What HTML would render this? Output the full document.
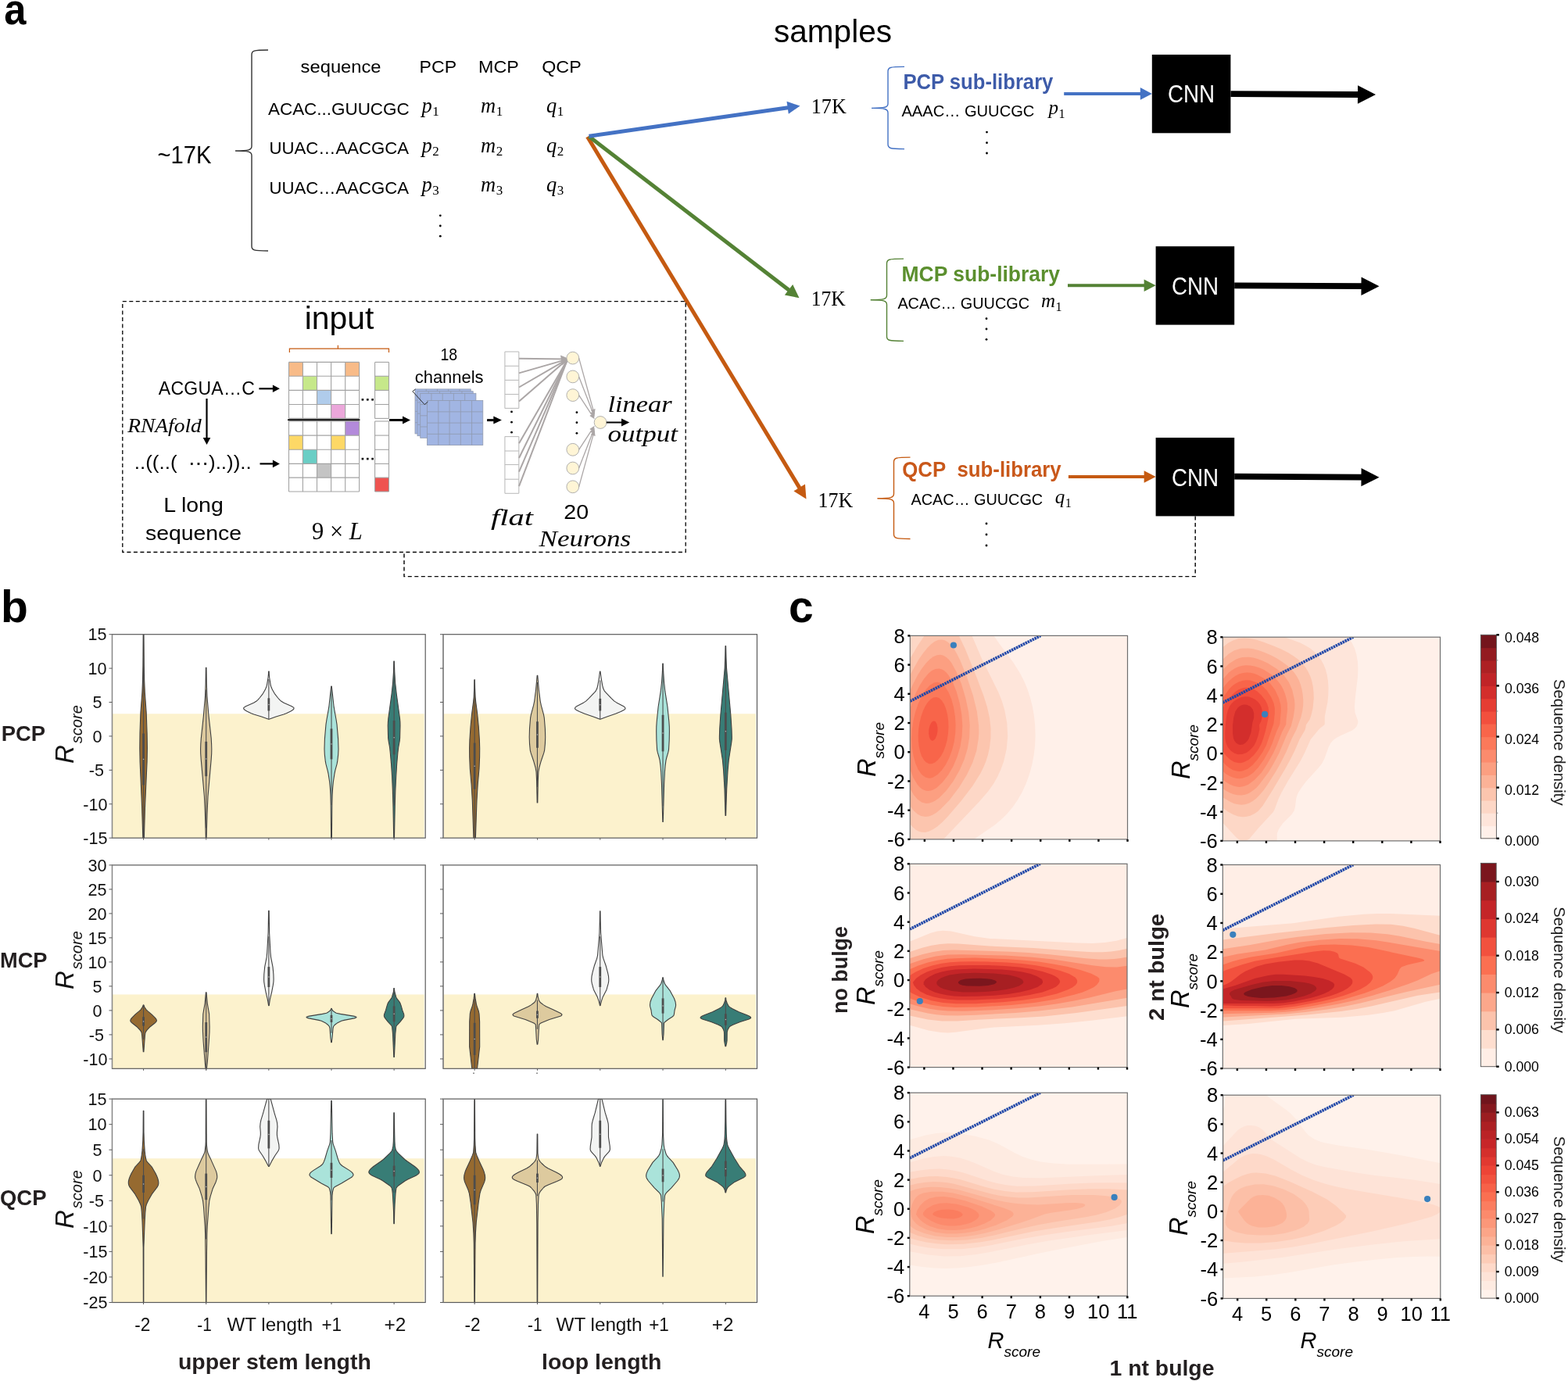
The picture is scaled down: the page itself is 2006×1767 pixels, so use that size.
<!DOCTYPE html>
<html><head><meta charset="utf-8"><title>Figure</title>
<style>
html,body{margin:0;padding:0;background:#fff;}
body{width:2006px;height:1767px;overflow:hidden;}
svg{display:block;}
</style></head><body>
<svg width="2006" height="1767" viewBox="0 0 2006 1767" font-family="'Liberation Sans', Arial, sans-serif">
<rect x="0" y="0" width="2006" height="1767" fill="#fff"/>
<text x="5.2" y="30.7" font-size="56" font-weight="bold" fill="#000" textLength="28.2" lengthAdjust="spacingAndGlyphs">a</text>
<text x="990.0" y="54.0" font-size="40" textLength="151.0" lengthAdjust="spacingAndGlyphs">samples</text>
<path d="M343.0,64.0 C324.0,64.0 322.0,65.0 322.0,70.0 L322.0,187.0 C322.0,192.0 318.0,193.0 301.0,193.0 C318.0,193.0 322.0,194.0 322.0,199.0 L322.0,315.0 C322.0,320.0 324.0,321.0 343.0,321.0" fill="none" stroke="#333" stroke-width="1.4" />
<text x="201.5" y="209.3" font-size="31.5" textLength="69.0" lengthAdjust="spacingAndGlyphs">~17K</text>
<text x="384.6" y="92.9" font-size="22.5" textLength="103.0" lengthAdjust="spacingAndGlyphs">sequence</text>
<text x="536.6" y="93.0" font-size="22.5" textLength="47.5" lengthAdjust="spacingAndGlyphs">PCP</text>
<text x="612.0" y="93.0" font-size="22.5" textLength="51.7" lengthAdjust="spacingAndGlyphs">MCP</text>
<text x="693.2" y="93.0" font-size="22.5" textLength="50.5" lengthAdjust="spacingAndGlyphs">QCP</text>
<text x="343.0" y="146.9" font-size="22.5" textLength="180.7" lengthAdjust="spacingAndGlyphs">ACAC...GUUCGC</text>
<text x="344.5" y="197.3" font-size="22.5" textLength="178.5" lengthAdjust="spacingAndGlyphs">UUAC…AACGCA</text>
<text x="344.5" y="247.7" font-size="22.5" textLength="178.5" lengthAdjust="spacingAndGlyphs">UUAC…AACGCA</text>
<text x="539.5" y="143.5" font-family="'Liberation Serif', 'Times New Roman', serif" font-size="26.5" font-style="italic" fill="#000">p<tspan font-style="normal" font-size="17" dy="4.5" dx="0.5">1</tspan></text>
<text x="615.0" y="143.5" font-family="'Liberation Serif', 'Times New Roman', serif" font-size="26.5" font-style="italic" fill="#000">m<tspan font-style="normal" font-size="17" dy="4.5" dx="0.5">1</tspan></text>
<text x="699.0" y="143.5" font-family="'Liberation Serif', 'Times New Roman', serif" font-size="26.5" font-style="italic" fill="#000">q<tspan font-style="normal" font-size="17" dy="4.5" dx="0.5">1</tspan></text>
<text x="539.5" y="194.5" font-family="'Liberation Serif', 'Times New Roman', serif" font-size="26.5" font-style="italic" fill="#000">p<tspan font-style="normal" font-size="17" dy="4.5" dx="0.5">2</tspan></text>
<text x="615.0" y="194.5" font-family="'Liberation Serif', 'Times New Roman', serif" font-size="26.5" font-style="italic" fill="#000">m<tspan font-style="normal" font-size="17" dy="4.5" dx="0.5">2</tspan></text>
<text x="699.0" y="194.5" font-family="'Liberation Serif', 'Times New Roman', serif" font-size="26.5" font-style="italic" fill="#000">q<tspan font-style="normal" font-size="17" dy="4.5" dx="0.5">2</tspan></text>
<text x="539.5" y="244.5" font-family="'Liberation Serif', 'Times New Roman', serif" font-size="26.5" font-style="italic" fill="#000">p<tspan font-style="normal" font-size="17" dy="4.5" dx="0.5">3</tspan></text>
<text x="615.0" y="244.5" font-family="'Liberation Serif', 'Times New Roman', serif" font-size="26.5" font-style="italic" fill="#000">m<tspan font-style="normal" font-size="17" dy="4.5" dx="0.5">3</tspan></text>
<text x="699.0" y="244.5" font-family="'Liberation Serif', 'Times New Roman', serif" font-size="26.5" font-style="italic" fill="#000">q<tspan font-style="normal" font-size="17" dy="4.5" dx="0.5">3</tspan></text>
<circle cx="563.3" cy="275.8" r="1.4" fill="#000"/>
<circle cx="563.3" cy="289" r="1.4" fill="#000"/>
<circle cx="563.3" cy="302.2" r="1.4" fill="#000"/>
<line x1="751.50" y1="175.00" x2="1022.97" y2="624.38" stroke="#C55A11" stroke-width="5" />
<polygon points="1031.50,638.50 1015.43,628.34 1029.99,619.55" fill="#C55A11"/>
<line x1="753.50" y1="174.60" x2="1009.41" y2="371.15" stroke="#548235" stroke-width="5" />
<polygon points="1022.50,381.20 1003.84,377.59 1014.20,364.10" fill="#548235"/>
<line x1="753.50" y1="174.30" x2="1008.16" y2="137.70" stroke="#4472C4" stroke-width="5" />
<polygon points="1023.50,135.50 1008.80,145.69 1006.52,129.86" fill="#4472C4"/>
<text x="1037.8" y="145.2" font-size="28" font-family="'Liberation Serif', 'Times New Roman', serif" textLength="45.0" lengthAdjust="spacingAndGlyphs">17K</text>
<text x="1037.8" y="391.0" font-size="28" font-family="'Liberation Serif', 'Times New Roman', serif" textLength="44.0" lengthAdjust="spacingAndGlyphs">17K</text>
<text x="1046.6" y="648.8" font-size="28" font-family="'Liberation Serif', 'Times New Roman', serif" textLength="44.6" lengthAdjust="spacingAndGlyphs">17K</text>
<path d="M1157.0,85.4 C1138.0,85.4 1136.0,86.4 1136.0,91.4 L1136.0,132.4 C1136.0,137.4 1132.0,138.4 1115.0,138.4 C1132.0,138.4 1136.0,139.4 1136.0,144.4 L1136.0,184.6 C1136.0,189.6 1138.0,190.6 1157.0,190.6" fill="none" stroke="#4472C4" stroke-width="1.4" />
<path d="M1156.0,331.1 C1136.5,331.1 1134.5,332.1 1134.5,337.1 L1134.5,377.7 C1134.5,382.7 1130.5,383.7 1113.7,383.7 C1130.5,383.7 1134.5,384.7 1134.5,389.7 L1134.5,430.4 C1134.5,435.4 1136.5,436.4 1156.0,436.4" fill="none" stroke="#548235" stroke-width="1.4" />
<path d="M1164.5,585.1 C1145.5,585.1 1143.5,586.1 1143.5,591.1 L1143.5,631.8 C1143.5,636.8 1139.5,637.8 1122.4,637.8 C1139.5,637.8 1143.5,638.8 1143.5,643.8 L1143.5,683.5 C1143.5,688.5 1145.5,689.5 1164.5,689.5" fill="none" stroke="#C55A11" stroke-width="1.4" />
<text x="1155.4" y="113.5" font-size="27.5" font-weight="bold" fill="#3D5BA9" textLength="192.0" lengthAdjust="spacingAndGlyphs">PCP sub-library</text>
<text x="1153.5" y="359.8" font-size="27.5" font-weight="bold" fill="#5B8F2E" textLength="202.6" lengthAdjust="spacingAndGlyphs">MCP sub-library</text>
<text x="1154.3" y="610.3" font-size="27.5" font-weight="bold" fill="#C9581A" textLength="203.4" lengthAdjust="spacingAndGlyphs">QCP  sub-library</text>
<text x="1153.4" y="148.8" font-size="20.5" textLength="170.0" lengthAdjust="spacingAndGlyphs">AAAC… GUUCGC</text>
<text x="1341.5" y="146.0" font-family="'Liberation Serif', 'Times New Roman', serif" font-size="25" font-style="italic" fill="#000">p<tspan font-style="normal" font-size="16" dy="4.5" dx="0.5">1</tspan></text>
<text x="1148.4" y="394.9" font-size="20.5" textLength="168.6" lengthAdjust="spacingAndGlyphs">ACAC… GUUCGC</text>
<text x="1332.0" y="393.0" font-family="'Liberation Serif', 'Times New Roman', serif" font-size="25" font-style="italic" fill="#000">m<tspan font-style="normal" font-size="16" dy="4.5" dx="0.5">1</tspan></text>
<text x="1165.5" y="646.2" font-size="20.5" textLength="168.7" lengthAdjust="spacingAndGlyphs">ACAC… GUUCGC</text>
<text x="1349.8" y="644.0" font-family="'Liberation Serif', 'Times New Roman', serif" font-size="25" font-style="italic" fill="#000">q<tspan font-style="normal" font-size="16" dy="4.5" dx="0.5">1</tspan></text>
<circle cx="1262.5" cy="169.1" r="1.4" fill="#000"/>
<circle cx="1262.5" cy="182.7" r="1.4" fill="#000"/>
<circle cx="1262.5" cy="196.0" r="1.4" fill="#000"/>
<circle cx="1262.0" cy="407.7" r="1.4" fill="#000"/>
<circle cx="1262.0" cy="421.0" r="1.4" fill="#000"/>
<circle cx="1262.0" cy="434.3" r="1.4" fill="#000"/>
<circle cx="1262.0" cy="670.0" r="1.4" fill="#000"/>
<circle cx="1262.0" cy="684.0" r="1.4" fill="#000"/>
<circle cx="1262.0" cy="698.0" r="1.4" fill="#000"/>
<line x1="1361.20" y1="119.90" x2="1459.30" y2="119.90" stroke="#4472C4" stroke-width="4" />
<polygon points="1473.80,119.90 1458.80,127.70 1458.80,112.10" fill="#4472C4"/>
<line x1="1366.00" y1="365.30" x2="1464.10" y2="365.30" stroke="#548235" stroke-width="4" />
<polygon points="1478.60,365.30 1463.60,373.10 1463.60,357.50" fill="#548235"/>
<line x1="1366.90" y1="610.00" x2="1464.10" y2="610.00" stroke="#C55A11" stroke-width="4" />
<polygon points="1478.60,610.00 1463.60,617.80 1463.60,602.20" fill="#C55A11"/>
<rect x="1473.80" y="69.90" width="100.60" height="100.40" fill="#000" />
<text x="1524.1" y="131.4" font-size="30.5" text-anchor="middle" fill="#fff" textLength="60.0" lengthAdjust="spacingAndGlyphs">CNN</text>
<rect x="1478.60" y="315.20" width="100.60" height="100.40" fill="#000" />
<text x="1528.9" y="376.7" font-size="30.5" text-anchor="middle" fill="#fff" textLength="60.0" lengthAdjust="spacingAndGlyphs">CNN</text>
<rect x="1478.60" y="560.00" width="100.60" height="100.40" fill="#000" />
<text x="1528.9" y="621.5" font-size="30.5" text-anchor="middle" fill="#fff" textLength="60.0" lengthAdjust="spacingAndGlyphs">CNN</text>
<line x1="1574.40" y1="120.10" x2="1737.50" y2="120.98" stroke="#000" stroke-width="7.8" />
<polygon points="1760.00,121.10 1736.94,132.68 1737.06,109.28" fill="#000"/>
<line x1="1579.20" y1="365.30" x2="1742.00" y2="366.18" stroke="#000" stroke-width="7.8" />
<polygon points="1764.50,366.30 1741.44,377.88 1741.56,354.48" fill="#000"/>
<line x1="1579.20" y1="609.70" x2="1742.00" y2="610.58" stroke="#000" stroke-width="7.8" />
<polygon points="1764.50,610.70 1741.44,622.28 1741.56,598.88" fill="#000"/>
<path d="M1529.2,660.5 L1529.2,737.6 L517.0,737.6 L517.0,706.6" fill="none" stroke="#000" stroke-width="1.4" stroke-dasharray="5,3.5"/>
<rect x="156.80" y="385.70" width="720.40" height="320.80" fill="none" stroke="#000" stroke-width="1.3" stroke-dasharray="5,3.5"/>
<text x="389.7" y="420.5" font-size="40.5" textLength="88.6" lengthAdjust="spacingAndGlyphs">input</text>
<path d="M370.4,451 L370.4,446.2 L497.5,446.2 L497.5,451 M432.4,446.2 L432.4,441.7" fill="none" stroke="#C55A11" stroke-width="1.2" />
<rect x="369.50" y="463.40" width="17.90" height="17.90" fill="#F8BB88" />
<rect x="441.70" y="463.40" width="17.90" height="17.90" fill="#F8BB88" />
<rect x="387.40" y="481.30" width="18.10" height="18.10" fill="#C6E88A" />
<rect x="405.50" y="499.40" width="18.10" height="18.10" fill="#B0CCEB" />
<rect x="423.60" y="517.50" width="18.10" height="17.90" fill="#EBA7DA" />
<line x1="369.50" y1="463.40" x2="459.60" y2="463.40" stroke="#A3A3A3" stroke-width="1.1" />
<line x1="369.50" y1="481.30" x2="459.60" y2="481.30" stroke="#A3A3A3" stroke-width="1.1" />
<line x1="369.50" y1="499.40" x2="459.60" y2="499.40" stroke="#A3A3A3" stroke-width="1.1" />
<line x1="369.50" y1="517.50" x2="459.60" y2="517.50" stroke="#A3A3A3" stroke-width="1.1" />
<line x1="369.50" y1="535.40" x2="459.60" y2="535.40" stroke="#A3A3A3" stroke-width="1.1" />
<line x1="369.50" y1="463.40" x2="369.50" y2="535.40" stroke="#A3A3A3" stroke-width="1.1" />
<line x1="387.40" y1="463.40" x2="387.40" y2="535.40" stroke="#A3A3A3" stroke-width="1.1" />
<line x1="405.50" y1="463.40" x2="405.50" y2="535.40" stroke="#A3A3A3" stroke-width="1.1" />
<line x1="423.60" y1="463.40" x2="423.60" y2="535.40" stroke="#A3A3A3" stroke-width="1.1" />
<line x1="441.70" y1="463.40" x2="441.70" y2="535.40" stroke="#A3A3A3" stroke-width="1.1" />
<line x1="459.60" y1="463.40" x2="459.60" y2="535.40" stroke="#A3A3A3" stroke-width="1.1" />
<rect x="441.70" y="539.00" width="17.90" height="18.10" fill="#B38ADB" />
<rect x="369.50" y="557.10" width="17.90" height="18.20" fill="#FDD866" />
<rect x="423.60" y="557.10" width="18.10" height="18.20" fill="#FDD866" />
<rect x="387.40" y="575.30" width="18.10" height="18.10" fill="#6ACEC5" />
<rect x="405.50" y="593.40" width="18.10" height="17.70" fill="#C4C4C4" />
<line x1="369.50" y1="539.00" x2="459.60" y2="539.00" stroke="#A3A3A3" stroke-width="1.1" />
<line x1="369.50" y1="557.10" x2="459.60" y2="557.10" stroke="#A3A3A3" stroke-width="1.1" />
<line x1="369.50" y1="575.30" x2="459.60" y2="575.30" stroke="#A3A3A3" stroke-width="1.1" />
<line x1="369.50" y1="593.40" x2="459.60" y2="593.40" stroke="#A3A3A3" stroke-width="1.1" />
<line x1="369.50" y1="611.10" x2="459.60" y2="611.10" stroke="#A3A3A3" stroke-width="1.1" />
<line x1="369.50" y1="629.00" x2="459.60" y2="629.00" stroke="#A3A3A3" stroke-width="1.1" />
<line x1="369.50" y1="539.00" x2="369.50" y2="629.00" stroke="#A3A3A3" stroke-width="1.1" />
<line x1="387.40" y1="539.00" x2="387.40" y2="629.00" stroke="#A3A3A3" stroke-width="1.1" />
<line x1="405.50" y1="539.00" x2="405.50" y2="629.00" stroke="#A3A3A3" stroke-width="1.1" />
<line x1="423.60" y1="539.00" x2="423.60" y2="629.00" stroke="#A3A3A3" stroke-width="1.1" />
<line x1="441.70" y1="539.00" x2="441.70" y2="629.00" stroke="#A3A3A3" stroke-width="1.1" />
<line x1="459.60" y1="539.00" x2="459.60" y2="629.00" stroke="#A3A3A3" stroke-width="1.1" />
<rect x="479.60" y="481.30" width="17.90" height="18.10" fill="#C6E88A" />
<rect x="479.60" y="611.10" width="17.90" height="17.90" fill="#EF5350" />
<line x1="479.60" y1="463.40" x2="497.50" y2="463.40" stroke="#A3A3A3" stroke-width="1.1" />
<line x1="479.60" y1="481.30" x2="497.50" y2="481.30" stroke="#A3A3A3" stroke-width="1.1" />
<line x1="479.60" y1="499.40" x2="497.50" y2="499.40" stroke="#A3A3A3" stroke-width="1.1" />
<line x1="479.60" y1="517.50" x2="497.50" y2="517.50" stroke="#A3A3A3" stroke-width="1.1" />
<line x1="479.60" y1="535.40" x2="497.50" y2="535.40" stroke="#A3A3A3" stroke-width="1.1" />
<line x1="479.60" y1="463.40" x2="479.60" y2="535.40" stroke="#A3A3A3" stroke-width="1.1" />
<line x1="497.50" y1="463.40" x2="497.50" y2="535.40" stroke="#A3A3A3" stroke-width="1.1" />
<line x1="479.60" y1="539.00" x2="497.50" y2="539.00" stroke="#A3A3A3" stroke-width="1.1" />
<line x1="479.60" y1="557.10" x2="497.50" y2="557.10" stroke="#A3A3A3" stroke-width="1.1" />
<line x1="479.60" y1="575.30" x2="497.50" y2="575.30" stroke="#A3A3A3" stroke-width="1.1" />
<line x1="479.60" y1="593.40" x2="497.50" y2="593.40" stroke="#A3A3A3" stroke-width="1.1" />
<line x1="479.60" y1="611.10" x2="497.50" y2="611.10" stroke="#A3A3A3" stroke-width="1.1" />
<line x1="479.60" y1="629.00" x2="497.50" y2="629.00" stroke="#A3A3A3" stroke-width="1.1" />
<line x1="479.60" y1="539.00" x2="479.60" y2="629.00" stroke="#A3A3A3" stroke-width="1.1" />
<line x1="497.50" y1="539.00" x2="497.50" y2="629.00" stroke="#A3A3A3" stroke-width="1.1" />
<line x1="368.10" y1="537.30" x2="460.40" y2="537.30" stroke="#000" stroke-width="2" />
<rect x="462.60" y="510.00" width="2.60" height="2.60" fill="#000" />
<rect x="469.00" y="510.00" width="2.60" height="2.60" fill="#000" />
<rect x="475.30" y="510.00" width="2.60" height="2.60" fill="#000" />
<rect x="462.60" y="585.80" width="2.60" height="2.60" fill="#000" />
<rect x="469.00" y="585.80" width="2.60" height="2.60" fill="#000" />
<rect x="475.30" y="585.80" width="2.60" height="2.60" fill="#000" />
<text x="202.8" y="505.3" font-size="23" textLength="123" lengthAdjust="spacing">ACGUA…C</text>
<line x1="331.40" y1="497.30" x2="349.40" y2="497.30" stroke="#000" stroke-width="2.2" />
<polygon points="357.90,497.30 348.90,502.10 348.90,492.50" fill="#000"/>
<line x1="264.50" y1="510.00" x2="264.50" y2="560.50" stroke="#000" stroke-width="2.2" />
<polygon points="264.50,569.00 259.70,560.00 269.30,560.00" fill="#000"/>
<text x="163.2" y="553.2" font-size="25" font-family="'Liberation Serif', 'Times New Roman', serif" font-style="italic" textLength="94.6" lengthAdjust="spacingAndGlyphs">RNAfold</text>
<text x="171.8" y="600.0" font-size="23" textLength="150.0" lengthAdjust="spacingAndGlyphs">..((..(  ⋯)..))..</text>
<line x1="332.50" y1="593.40" x2="349.40" y2="593.40" stroke="#000" stroke-width="2.2" />
<polygon points="357.90,593.40 348.90,598.20 348.90,588.60" fill="#000"/>
<text x="209.2" y="654.9" font-size="25" textLength="76.6" lengthAdjust="spacingAndGlyphs">L long</text>
<text x="186.0" y="690.7" font-size="25" textLength="123.0" lengthAdjust="spacingAndGlyphs">sequence</text>
<text x="399" y="689.6" font-family="'Liberation Serif', 'Times New Roman', serif" font-size="30.5"><tspan>9 × </tspan><tspan font-style="italic">L</tspan></text>
<line x1="498.10" y1="537.50" x2="515.50" y2="537.50" stroke="#000" stroke-width="3" />
<polygon points="525.00,537.50 515.00,542.50 515.00,532.50" fill="#000"/>
<rect x="531.00" y="497.90" width="71.20" height="57.00" fill="#A1B5E3" stroke="#8F99AE" stroke-width="0.8" />
<line x1="545.24" y1="497.90" x2="545.24" y2="554.90" stroke="#8F99AE" stroke-width="0.8" />
<line x1="559.48" y1="497.90" x2="559.48" y2="554.90" stroke="#8F99AE" stroke-width="0.8" />
<line x1="573.72" y1="497.90" x2="573.72" y2="554.90" stroke="#8F99AE" stroke-width="0.8" />
<line x1="587.96" y1="497.90" x2="587.96" y2="554.90" stroke="#8F99AE" stroke-width="0.8" />
<line x1="531.00" y1="512.15" x2="602.20" y2="512.15" stroke="#8F99AE" stroke-width="0.8" />
<line x1="531.00" y1="526.40" x2="602.20" y2="526.40" stroke="#8F99AE" stroke-width="0.8" />
<line x1="531.00" y1="540.65" x2="602.20" y2="540.65" stroke="#8F99AE" stroke-width="0.8" />
<rect x="534.00" y="500.70" width="71.20" height="57.00" fill="#A1B5E3" stroke="#8F99AE" stroke-width="0.8" />
<line x1="548.24" y1="500.70" x2="548.24" y2="557.70" stroke="#8F99AE" stroke-width="0.8" />
<line x1="562.48" y1="500.70" x2="562.48" y2="557.70" stroke="#8F99AE" stroke-width="0.8" />
<line x1="576.72" y1="500.70" x2="576.72" y2="557.70" stroke="#8F99AE" stroke-width="0.8" />
<line x1="590.96" y1="500.70" x2="590.96" y2="557.70" stroke="#8F99AE" stroke-width="0.8" />
<line x1="534.00" y1="514.95" x2="605.20" y2="514.95" stroke="#8F99AE" stroke-width="0.8" />
<line x1="534.00" y1="529.20" x2="605.20" y2="529.20" stroke="#8F99AE" stroke-width="0.8" />
<line x1="534.00" y1="543.45" x2="605.20" y2="543.45" stroke="#8F99AE" stroke-width="0.8" />
<rect x="537.70" y="503.30" width="71.20" height="57.00" fill="#A1B5E3" stroke="#8F99AE" stroke-width="0.8" />
<line x1="551.94" y1="503.30" x2="551.94" y2="560.30" stroke="#8F99AE" stroke-width="0.8" />
<line x1="566.18" y1="503.30" x2="566.18" y2="560.30" stroke="#8F99AE" stroke-width="0.8" />
<line x1="580.42" y1="503.30" x2="580.42" y2="560.30" stroke="#8F99AE" stroke-width="0.8" />
<line x1="594.66" y1="503.30" x2="594.66" y2="560.30" stroke="#8F99AE" stroke-width="0.8" />
<line x1="537.70" y1="517.55" x2="608.90" y2="517.55" stroke="#8F99AE" stroke-width="0.8" />
<line x1="537.70" y1="531.80" x2="608.90" y2="531.80" stroke="#8F99AE" stroke-width="0.8" />
<line x1="537.70" y1="546.05" x2="608.90" y2="546.05" stroke="#8F99AE" stroke-width="0.8" />
<rect x="546.60" y="512.60" width="71.20" height="57.00" fill="#A1B5E3" stroke="#8F99AE" stroke-width="0.8" />
<line x1="560.84" y1="512.60" x2="560.84" y2="569.60" stroke="#8F99AE" stroke-width="0.8" />
<line x1="575.08" y1="512.60" x2="575.08" y2="569.60" stroke="#8F99AE" stroke-width="0.8" />
<line x1="589.32" y1="512.60" x2="589.32" y2="569.60" stroke="#8F99AE" stroke-width="0.8" />
<line x1="603.56" y1="512.60" x2="603.56" y2="569.60" stroke="#8F99AE" stroke-width="0.8" />
<line x1="546.60" y1="526.85" x2="617.80" y2="526.85" stroke="#8F99AE" stroke-width="0.8" />
<line x1="546.60" y1="541.10" x2="617.80" y2="541.10" stroke="#8F99AE" stroke-width="0.8" />
<line x1="546.60" y1="555.35" x2="617.80" y2="555.35" stroke="#8F99AE" stroke-width="0.8" />
<path d="M531.5,498 L527.8,500.7 L543.2,517.6 L547.5,514" fill="none" stroke="#222" stroke-width="0.9" />
<text x="563.4" y="461.0" font-size="22" textLength="21.7" lengthAdjust="spacingAndGlyphs">18</text>
<text x="530.7" y="489.9" font-size="22" textLength="87.9" lengthAdjust="spacingAndGlyphs">channels</text>
<line x1="623.10" y1="537.60" x2="631.80" y2="537.60" stroke="#000" stroke-width="3" />
<polygon points="641.90,537.60 631.30,542.60 631.30,532.60" fill="#000"/>
<line x1="645.90" y1="450.00" x2="663.80" y2="450.00" stroke="#BDBDBD" stroke-width="1.1" />
<line x1="645.90" y1="468.30" x2="663.80" y2="468.30" stroke="#BDBDBD" stroke-width="1.1" />
<line x1="645.90" y1="486.40" x2="663.80" y2="486.40" stroke="#BDBDBD" stroke-width="1.1" />
<line x1="645.90" y1="504.50" x2="663.80" y2="504.50" stroke="#BDBDBD" stroke-width="1.1" />
<line x1="645.90" y1="522.40" x2="663.80" y2="522.40" stroke="#BDBDBD" stroke-width="1.1" />
<line x1="645.90" y1="450.00" x2="645.90" y2="522.40" stroke="#BDBDBD" stroke-width="1.1" />
<line x1="663.80" y1="450.00" x2="663.80" y2="522.40" stroke="#BDBDBD" stroke-width="1.1" />
<line x1="645.90" y1="558.60" x2="663.80" y2="558.60" stroke="#BDBDBD" stroke-width="1.1" />
<line x1="645.90" y1="577.00" x2="663.80" y2="577.00" stroke="#BDBDBD" stroke-width="1.1" />
<line x1="645.90" y1="594.50" x2="663.80" y2="594.50" stroke="#BDBDBD" stroke-width="1.1" />
<line x1="645.90" y1="613.20" x2="663.80" y2="613.20" stroke="#BDBDBD" stroke-width="1.1" />
<line x1="645.90" y1="631.30" x2="663.80" y2="631.30" stroke="#BDBDBD" stroke-width="1.1" />
<line x1="645.90" y1="558.60" x2="645.90" y2="631.30" stroke="#BDBDBD" stroke-width="1.1" />
<line x1="663.80" y1="558.60" x2="663.80" y2="631.30" stroke="#BDBDBD" stroke-width="1.1" />
<circle cx="654.5" cy="526.9" r="1.4" fill="#000"/>
<circle cx="654.5" cy="540.2" r="1.4" fill="#000"/>
<circle cx="654.5" cy="553.2" r="1.4" fill="#000"/>
<line x1="664.00" y1="458.70" x2="725.00" y2="459.48" stroke="#ABA6A6" stroke-width="2" />
<line x1="664.00" y1="477.40" x2="725.00" y2="459.86" stroke="#ABA6A6" stroke-width="2" />
<line x1="664.00" y1="495.50" x2="725.00" y2="460.22" stroke="#ABA6A6" stroke-width="2" />
<line x1="664.00" y1="513.60" x2="725.00" y2="460.58" stroke="#ABA6A6" stroke-width="2" />
<line x1="664.00" y1="567.30" x2="725.00" y2="461.66" stroke="#ABA6A6" stroke-width="2" />
<line x1="664.00" y1="586.00" x2="725.00" y2="462.03" stroke="#ABA6A6" stroke-width="2" />
<line x1="664.00" y1="603.60" x2="725.00" y2="462.38" stroke="#ABA6A6" stroke-width="2" />
<line x1="664.00" y1="622.20" x2="725.00" y2="462.75" stroke="#ABA6A6" stroke-width="2" />
<polygon points="729.0,459.5 717.0,454.5 719.0,467.5" fill="#ABA6A6"/>
<circle cx="732.8" cy="458.1" r="7.9" fill="#FFF5D6" stroke="#A8A8A8" stroke-width="0.9"/>
<circle cx="732.8" cy="481.9" r="7.9" fill="#FFF5D6" stroke="#A8A8A8" stroke-width="0.9"/>
<circle cx="732.8" cy="505.6" r="7.9" fill="#FFF5D6" stroke="#A8A8A8" stroke-width="0.9"/>
<circle cx="732.8" cy="575.3" r="7.9" fill="#FFF5D6" stroke="#A8A8A8" stroke-width="0.9"/>
<circle cx="732.8" cy="599.0" r="7.9" fill="#FFF5D6" stroke="#A8A8A8" stroke-width="0.9"/>
<circle cx="732.8" cy="622.8" r="7.9" fill="#FFF5D6" stroke="#A8A8A8" stroke-width="0.9"/>
<circle cx="737.9" cy="527.7" r="1.4" fill="#000"/>
<circle cx="737.9" cy="540.7" r="1.4" fill="#000"/>
<circle cx="737.9" cy="554.3" r="1.4" fill="#000"/>
<line x1="740.60" y1="458.10" x2="758.74" y2="523.86" stroke="#ABA6A6" stroke-width="1.3" />
<polygon points="760.6,530.6 755.8,524.7 761.6,523.1" fill="#ABA6A6"/>
<line x1="740.60" y1="481.90" x2="758.07" y2="526.94" stroke="#ABA6A6" stroke-width="1.3" />
<polygon points="760.6,533.5 755.3,528.0 760.9,525.9" fill="#ABA6A6"/>
<line x1="740.60" y1="505.60" x2="756.78" y2="530.45" stroke="#ABA6A6" stroke-width="1.3" />
<polygon points="760.6,536.3 754.3,532.1 759.3,528.8" fill="#ABA6A6"/>
<line x1="740.60" y1="575.30" x2="756.77" y2="550.54" stroke="#ABA6A6" stroke-width="1.3" />
<polygon points="760.6,544.7 759.3,552.2 754.3,548.9" fill="#ABA6A6"/>
<line x1="740.60" y1="599.00" x2="758.07" y2="554.04" stroke="#ABA6A6" stroke-width="1.3" />
<polygon points="760.6,547.5 760.9,555.1 755.3,553.0" fill="#ABA6A6"/>
<line x1="740.60" y1="622.80" x2="758.74" y2="557.12" stroke="#ABA6A6" stroke-width="1.3" />
<polygon points="760.6,550.4 761.6,557.9 755.8,556.3" fill="#ABA6A6"/>
<circle cx="768.1" cy="540.5" r="7.9" fill="#FFF5D6" stroke="#A8A8A8" stroke-width="0.9"/>
<line x1="775.80" y1="540.50" x2="795.50" y2="540.50" stroke="#000" stroke-width="2" />
<polygon points="805.30,540.50 795.00,545.60 795.00,535.40" fill="#000"/>
<text x="777.4" y="527.0" font-size="29" font-family="'Liberation Serif', 'Times New Roman', serif" font-style="italic" textLength="82.2" lengthAdjust="spacingAndGlyphs">linear</text>
<text x="777.4" y="565.1" font-size="29" font-family="'Liberation Serif', 'Times New Roman', serif" font-style="italic" textLength="89.7" lengthAdjust="spacingAndGlyphs">output</text>
<text x="627.9" y="672.0" font-size="29" font-family="'Liberation Serif', 'Times New Roman', serif" font-style="italic" textLength="54.0" lengthAdjust="spacingAndGlyphs">flat</text>
<text x="721.3" y="663.5" font-size="25" textLength="31.8" lengthAdjust="spacingAndGlyphs">20</text>
<text x="689.5" y="699.0" font-size="29" font-family="'Liberation Serif', 'Times New Roman', serif" font-style="italic" textLength="117.8" lengthAdjust="spacingAndGlyphs">Neurons</text>
<text x="1.0" y="795.5" font-size="57" font-weight="bold" fill="#000">b</text>
<rect x="143.50" y="913.30" width="399.20" height="158.90" fill="#FCF2CD" />
<path d="M184.4,1072.2 185.5,1033.0 188.1,974.6 188.4,957.2 188.1,938.0 187.2,911.9 185.3,885.8 184.7,870.9 184.3,851.8 184.0,811.7 183.2,811.7 182.9,851.8 182.5,870.9 181.9,885.8 179.9,911.9 179.0,938.0 178.8,957.2 179.1,974.6 181.6,1033.0 182.8,1072.2Z" fill="#966A30" stroke="#404040" stroke-width="1.1" stroke-linejoin="round" clip-path="url(#clipb00)"/>
<line x1="183.57" y1="839.49" x2="183.57" y2="1072.20" stroke="#4D4D4D" stroke-width="1.1" />
<line x1="183.57" y1="938.48" x2="183.57" y2="1004.47" stroke="#4D4D4D" stroke-width="2.8" />
<circle cx="183.57" cy="971.47" r="0.75" fill="#BBB"/>
<line x1="183.57" y1="1072.20" x2="183.57" y2="1074.70" stroke="#5A5A5A" stroke-width="1" />
<path d="M264.1,1072.2 265.0,1040.9 266.0,1019.0 270.2,971.6 270.7,964.3 270.8,958.5 270.6,951.9 270.2,944.6 267.1,916.9 264.9,890.7 264.3,874.7 264.0,854.2 263.4,854.2 263.1,874.7 262.5,890.7 260.3,916.9 257.3,944.6 256.8,951.9 256.6,958.5 256.7,964.3 257.2,971.6 261.4,1019.0 262.4,1040.9 263.3,1072.2Z" fill="#DDCA9E" stroke="#404040" stroke-width="1.1" stroke-linejoin="round" clip-path="url(#clipb00)"/>
<line x1="263.71" y1="882.47" x2="263.71" y2="1059.61" stroke="#4D4D4D" stroke-width="1.1" />
<line x1="263.71" y1="948.90" x2="263.71" y2="993.18" stroke="#4D4D4D" stroke-width="2.8" />
<circle cx="263.71" cy="971.04" r="0.75" fill="#BBB"/>
<line x1="263.71" y1="1072.20" x2="263.71" y2="1074.70" stroke="#5A5A5A" stroke-width="1" />
<path d="M344.2,920.2 353.1,917.0 363.0,913.9 366.3,912.7 371.5,910.2 374.0,908.8 375.5,907.5 375.9,906.9 376.0,906.3 375.9,905.7 375.4,905.1 373.3,903.7 363.1,899.2 359.9,897.3 357.7,895.3 355.6,893.0 351.2,887.3 348.5,882.6 347.1,879.3 346.3,876.8 344.7,867.0 344.3,862.9 344.2,859.0 343.6,859.0 343.4,862.9 343.0,867.0 341.4,876.8 340.6,879.3 339.2,882.6 336.5,887.3 332.1,893.0 330.0,895.3 327.8,897.3 324.6,899.2 314.4,903.7 312.3,905.1 311.8,905.7 311.7,906.3 311.8,906.9 312.2,907.5 313.7,908.8 316.2,910.2 321.4,912.7 324.7,913.9 334.6,917.0 343.6,920.2Z" fill="#F3F4F3" stroke="#404040" stroke-width="1.1" stroke-linejoin="round" clip-path="url(#clipb00)"/>
<line x1="343.85" y1="869.10" x2="343.85" y2="920.24" stroke="#4D4D4D" stroke-width="1.1" />
<line x1="343.85" y1="893.32" x2="343.85" y2="909.47" stroke="#4D4D4D" stroke-width="2.8" />
<circle cx="343.85" cy="901.40" r="0.75" fill="#BBB"/>
<line x1="343.85" y1="1072.20" x2="343.85" y2="1074.70" stroke="#5A5A5A" stroke-width="1" />
<path d="M424.4,1072.2 424.8,1028.7 425.1,1017.0 425.6,1008.6 426.4,1000.2 427.9,990.4 428.8,985.9 431.1,977.4 431.7,974.2 432.7,965.1 433.0,958.6 432.6,945.6 431.0,926.8 430.1,921.0 427.2,904.7 424.3,878.1 423.7,878.1 420.8,904.7 417.9,921.0 417.0,926.8 415.4,945.6 415.0,958.6 415.3,965.1 416.3,974.2 416.9,977.4 419.1,985.9 420.1,990.4 421.6,1000.2 422.4,1008.6 422.9,1017.0 423.2,1028.7 423.6,1072.2Z" fill="#AAE3DA" stroke="#404040" stroke-width="1.1" stroke-linejoin="round" clip-path="url(#clipb00)"/>
<line x1="423.99" y1="878.13" x2="423.99" y2="1030.09" stroke="#4D4D4D" stroke-width="1.1" />
<line x1="423.99" y1="932.40" x2="423.99" y2="971.47" stroke="#4D4D4D" stroke-width="2.8" />
<circle cx="423.99" cy="951.94" r="0.75" fill="#BBB"/>
<line x1="423.99" y1="1072.20" x2="423.99" y2="1074.70" stroke="#5A5A5A" stroke-width="1" />
<path d="M504.5,1072.2 505.3,1029.8 505.9,1010.2 506.7,993.5 507.6,978.4 508.9,963.3 509.7,956.5 511.2,948.1 511.6,944.3 512.0,928.5 511.9,923.9 511.5,919.4 507.2,887.6 505.6,873.2 504.8,859.6 504.4,846.0 503.8,846.0 503.5,859.6 502.6,873.2 501.1,887.6 496.8,919.4 496.4,923.9 496.2,928.5 496.6,944.3 497.1,948.1 498.6,956.5 499.3,963.3 500.6,978.4 501.6,993.5 502.3,1010.2 502.9,1029.8 503.7,1072.2Z" fill="#387D76" stroke="#404040" stroke-width="1.1" stroke-linejoin="round" clip-path="url(#clipb00)"/>
<line x1="504.13" y1="856.85" x2="504.13" y2="1030.52" stroke="#4D4D4D" stroke-width="1.1" />
<line x1="504.13" y1="921.98" x2="504.13" y2="965.39" stroke="#4D4D4D" stroke-width="2.8" />
<circle cx="504.13" cy="943.69" r="0.75" fill="#BBB"/>
<line x1="504.13" y1="1072.20" x2="504.13" y2="1074.70" stroke="#5A5A5A" stroke-width="1" />
<clipPath id="clipb00"><rect x="143.5" y="811.7" width="400.70000000000005" height="260.5"/></clipPath>
<rect x="143.50" y="811.70" width="400.70" height="260.50" fill="none" stroke="#5A5A5A" stroke-width="1.2" />
<line x1="143.50" y1="811.70" x2="143.50" y2="1072.20" stroke="#8A8A8A" stroke-width="1.3" />
<line x1="139.50" y1="811.70" x2="143.50" y2="811.70" stroke="#5A5A5A" stroke-width="1" />
<line x1="139.50" y1="855.12" x2="143.50" y2="855.12" stroke="#5A5A5A" stroke-width="1" />
<line x1="139.50" y1="898.53" x2="143.50" y2="898.53" stroke="#5A5A5A" stroke-width="1" />
<line x1="139.50" y1="941.95" x2="143.50" y2="941.95" stroke="#5A5A5A" stroke-width="1" />
<line x1="139.50" y1="985.37" x2="143.50" y2="985.37" stroke="#5A5A5A" stroke-width="1" />
<line x1="139.50" y1="1028.78" x2="143.50" y2="1028.78" stroke="#5A5A5A" stroke-width="1" />
<line x1="139.50" y1="1072.20" x2="143.50" y2="1072.20" stroke="#5A5A5A" stroke-width="1" />
<rect x="567.00" y="913.30" width="400.00" height="158.90" fill="#FCF2CD" />
<path d="M608.4,1072.2 610.0,1024.1 611.2,1003.8 613.0,983.5 613.6,968.6 613.7,957.7 613.4,946.9 612.3,930.0 610.5,911.7 608.7,898.1 608.1,892.1 607.6,879.9 607.4,869.7 606.9,869.7 606.7,879.9 606.2,892.1 605.6,898.1 603.8,911.7 602.0,930.0 600.9,946.9 600.6,957.7 600.7,968.6 601.3,983.5 603.1,1003.8 604.3,1024.1 605.9,1072.2Z" fill="#966A30" stroke="#404040" stroke-width="1.1" stroke-linejoin="round" clip-path="url(#clipb01)"/>
<line x1="607.15" y1="869.70" x2="607.15" y2="1072.20" stroke="#4D4D4D" stroke-width="1.1" />
<line x1="607.15" y1="950.63" x2="607.15" y2="1009.68" stroke="#4D4D4D" stroke-width="2.8" />
<circle cx="607.15" cy="980.16" r="0.75" fill="#BBB"/>
<line x1="607.15" y1="1072.20" x2="607.15" y2="1074.70" stroke="#5A5A5A" stroke-width="1" />
<path d="M687.8,1027.0 688.3,999.3 688.9,987.3 689.8,982.4 692.4,973.2 695.6,963.9 696.6,960.1 697.4,951.4 697.7,943.2 697.4,932.4 696.3,918.7 695.4,913.8 692.3,902.4 691.2,897.0 689.4,882.8 687.8,864.3 687.2,864.3 685.5,882.8 683.7,897.0 682.6,902.4 679.5,913.8 678.6,918.7 677.5,932.4 677.2,943.2 677.5,951.4 678.3,960.1 679.3,963.9 682.5,973.2 685.1,982.4 686.0,987.3 686.6,999.3 687.2,1027.0Z" fill="#DDCA9E" stroke="#404040" stroke-width="1.1" stroke-linejoin="round" clip-path="url(#clipb01)"/>
<line x1="687.45" y1="873.00" x2="687.45" y2="1007.08" stroke="#4D4D4D" stroke-width="1.1" />
<line x1="687.45" y1="923.28" x2="687.45" y2="956.80" stroke="#4D4D4D" stroke-width="2.8" />
<circle cx="687.45" cy="940.04" r="0.75" fill="#BBB"/>
<line x1="687.45" y1="1072.20" x2="687.45" y2="1074.70" stroke="#5A5A5A" stroke-width="1" />
<path d="M768.0,920.2 776.6,917.0 787.5,913.3 794.2,910.4 798.6,908.2 799.8,907.1 800.0,906.3 799.5,905.1 797.8,903.7 788.7,898.9 785.9,897.1 782.0,893.4 774.6,885.6 773.0,883.6 771.8,881.1 770.7,876.8 769.0,866.8 768.0,859.0 767.5,859.0 766.5,866.8 764.8,876.8 763.7,881.1 762.5,883.6 760.9,885.6 753.5,893.4 749.6,897.1 746.8,898.9 737.7,903.7 736.0,905.1 735.5,906.3 735.7,907.1 736.9,908.2 741.3,910.4 748.0,913.3 758.9,917.0 767.5,920.2Z" fill="#F3F4F3" stroke="#404040" stroke-width="1.1" stroke-linejoin="round" clip-path="url(#clipb01)"/>
<line x1="767.75" y1="870.62" x2="767.75" y2="920.24" stroke="#4D4D4D" stroke-width="1.1" />
<line x1="767.75" y1="893.93" x2="767.75" y2="909.47" stroke="#4D4D4D" stroke-width="2.8" />
<circle cx="767.75" cy="901.70" r="0.75" fill="#BBB"/>
<line x1="767.75" y1="1072.20" x2="767.75" y2="1074.70" stroke="#5A5A5A" stroke-width="1" />
<path d="M848.3,1051.4 849.6,1004.0 850.4,987.8 851.1,979.6 852.0,972.9 852.8,969.5 854.8,962.7 855.5,959.3 856.2,947.2 856.4,935.7 856.3,929.6 855.9,923.5 854.0,904.5 850.8,884.2 849.5,872.0 848.7,859.9 848.3,849.0 847.8,849.0 847.4,859.9 846.6,872.0 845.3,884.2 842.1,904.5 840.2,923.5 839.8,929.6 839.7,935.7 839.9,947.2 840.6,959.3 841.3,962.7 843.3,969.5 844.1,972.9 845.0,979.6 845.7,987.8 846.5,1004.0 847.8,1051.4Z" fill="#AAE3DA" stroke="#404040" stroke-width="1.1" stroke-linejoin="round" clip-path="url(#clipb01)"/>
<line x1="848.05" y1="849.04" x2="848.05" y2="1031.34" stroke="#4D4D4D" stroke-width="1.1" />
<line x1="848.05" y1="914.77" x2="848.05" y2="961.40" stroke="#4D4D4D" stroke-width="2.8" />
<circle cx="848.05" cy="938.09" r="0.75" fill="#BBB"/>
<line x1="848.05" y1="1072.20" x2="848.05" y2="1074.70" stroke="#5A5A5A" stroke-width="1" />
<path d="M928.6,1043.5 929.7,1009.4 931.1,985.5 932.3,972.4 935.9,949.2 936.3,945.5 936.3,942.6 936.0,932.5 934.8,914.3 929.5,854.8 928.9,838.8 928.6,826.5 928.0,826.5 927.8,838.8 927.2,854.8 921.9,914.3 920.7,932.5 920.4,942.6 920.4,945.5 920.8,949.2 924.4,972.4 925.6,985.5 927.0,1009.4 928.0,1043.5Z" fill="#387D76" stroke="#404040" stroke-width="1.1" stroke-linejoin="round" clip-path="url(#clipb01)"/>
<line x1="928.35" y1="839.44" x2="928.35" y2="1032.21" stroke="#4D4D4D" stroke-width="1.1" />
<line x1="928.35" y1="911.73" x2="928.35" y2="959.92" stroke="#4D4D4D" stroke-width="2.8" />
<circle cx="928.35" cy="935.83" r="0.75" fill="#BBB"/>
<line x1="928.35" y1="1072.20" x2="928.35" y2="1074.70" stroke="#5A5A5A" stroke-width="1" />
<clipPath id="clipb01"><rect x="567.0" y="811.7" width="401.5" height="260.5"/></clipPath>
<rect x="567.00" y="811.70" width="401.50" height="260.50" fill="none" stroke="#5A5A5A" stroke-width="1.2" />
<line x1="567.00" y1="811.70" x2="567.00" y2="1072.20" stroke="#8A8A8A" stroke-width="1.3" />
<line x1="563.00" y1="811.70" x2="567.00" y2="811.70" stroke="#5A5A5A" stroke-width="1" />
<line x1="563.00" y1="855.12" x2="567.00" y2="855.12" stroke="#5A5A5A" stroke-width="1" />
<line x1="563.00" y1="898.53" x2="567.00" y2="898.53" stroke="#5A5A5A" stroke-width="1" />
<line x1="563.00" y1="941.95" x2="567.00" y2="941.95" stroke="#5A5A5A" stroke-width="1" />
<line x1="563.00" y1="985.37" x2="567.00" y2="985.37" stroke="#5A5A5A" stroke-width="1" />
<line x1="563.00" y1="1028.78" x2="567.00" y2="1028.78" stroke="#5A5A5A" stroke-width="1" />
<line x1="563.00" y1="1072.20" x2="567.00" y2="1072.20" stroke="#5A5A5A" stroke-width="1" />
<text x="124.6" y="819.4" font-size="21.6" text-anchor="middle" fill="#111">15</text>
<text x="124.6" y="862.8" font-size="21.6" text-anchor="middle" fill="#111">10</text>
<text x="124.6" y="906.2" font-size="21.6" text-anchor="middle" fill="#111">5</text>
<text x="124.6" y="949.7" font-size="21.6" text-anchor="middle" fill="#111">0</text>
<text x="123.4" y="993.1" font-size="21.6" text-anchor="middle" fill="#111">-5</text>
<text x="121.8" y="1036.5" font-size="21.6" text-anchor="middle" fill="#111">-10</text>
<text x="121.8" y="1079.9" font-size="21.6" text-anchor="middle" fill="#111">-15</text>
<rect x="143.50" y="1272.44" width="399.20" height="94.86" fill="#FCF2CD" />
<path d="M183.9,1345.6 185.4,1325.2 185.8,1322.2 186.2,1320.8 187.7,1318.4 192.1,1313.7 197.8,1309.3 199.3,1307.9 200.2,1306.7 200.4,1305.7 199.9,1304.1 198.3,1302.1 194.0,1297.9 188.9,1293.7 187.1,1291.9 185.0,1288.7 183.9,1285.9 183.3,1285.9 182.1,1288.7 180.1,1291.9 178.2,1293.7 173.1,1297.9 168.9,1302.1 167.3,1304.1 166.8,1305.7 167.0,1306.7 167.8,1307.9 169.4,1309.3 175.1,1313.7 179.5,1318.4 181.0,1320.8 181.3,1322.2 181.7,1325.2 183.3,1345.6Z" fill="#966A30" stroke="#404040" stroke-width="1.1" stroke-linejoin="round" clip-path="url(#clipb10)"/>
<line x1="183.57" y1="1285.89" x2="183.57" y2="1329.82" stroke="#4D4D4D" stroke-width="1.1" />
<line x1="183.57" y1="1301.15" x2="183.57" y2="1312.62" stroke="#4D4D4D" stroke-width="2.8" />
<circle cx="183.57" cy="1306.88" r="0.75" fill="#BBB"/>
<line x1="183.57" y1="1367.30" x2="183.57" y2="1369.80" stroke="#5A5A5A" stroke-width="1" />
<path d="M264.2,1369.2 265.3,1359.2 267.3,1332.3 268.0,1320.7 268.1,1313.7 267.6,1297.4 265.3,1284.1 264.0,1269.8 263.4,1269.8 262.1,1284.1 259.8,1297.4 259.3,1313.7 259.5,1320.7 260.1,1332.3 262.2,1359.2 263.2,1369.2Z" fill="#DDCA9E" stroke="#404040" stroke-width="1.1" stroke-linejoin="round" clip-path="url(#clipb10)"/>
<line x1="263.71" y1="1269.84" x2="263.71" y2="1369.16" stroke="#4D4D4D" stroke-width="1.1" />
<line x1="263.71" y1="1308.03" x2="263.71" y2="1346.22" stroke="#4D4D4D" stroke-width="2.8" />
<circle cx="263.71" cy="1327.12" r="0.75" fill="#BBB"/>
<line x1="263.71" y1="1367.30" x2="263.71" y2="1369.80" stroke="#5A5A5A" stroke-width="1" />
<path d="M344.2,1286.7 345.4,1278.6 347.6,1269.6 349.3,1260.7 349.9,1256.6 350.1,1253.0 349.9,1246.5 349.0,1237.1 346.6,1224.9 346.0,1218.8 344.6,1193.2 344.2,1165.2 343.6,1165.2 343.1,1193.2 341.7,1218.8 341.1,1224.9 338.7,1237.1 337.8,1246.5 337.6,1253.0 337.8,1256.6 338.4,1260.7 340.1,1269.6 342.3,1278.6 343.6,1286.7Z" fill="#F3F4F3" stroke="#404040" stroke-width="1.1" stroke-linejoin="round" clip-path="url(#clipb10)"/>
<line x1="343.85" y1="1198.32" x2="343.85" y2="1286.70" stroke="#4D4D4D" stroke-width="1.1" />
<line x1="343.85" y1="1237.10" x2="343.85" y2="1262.95" stroke="#4D4D4D" stroke-width="2.8" />
<circle cx="343.85" cy="1250.03" r="0.75" fill="#BBB"/>
<line x1="343.85" y1="1367.30" x2="343.85" y2="1369.80" stroke="#5A5A5A" stroke-width="1" />
<path d="M424.3,1333.8 425.0,1328.0 426.1,1315.5 426.6,1313.5 427.8,1311.8 429.3,1310.5 431.3,1309.1 436.8,1306.2 440.1,1305.4 453.0,1302.9 455.3,1302.2 456.0,1301.6 455.8,1301.3 455.0,1300.9 452.3,1300.1 435.4,1297.4 430.2,1296.2 428.2,1295.1 425.8,1293.2 424.7,1291.7 424.3,1290.4 423.7,1290.4 423.3,1291.7 422.2,1293.2 419.8,1295.1 417.8,1296.2 412.5,1297.4 395.7,1300.1 393.0,1300.9 392.1,1301.3 392.0,1301.6 392.7,1302.2 395.0,1302.9 407.9,1305.4 411.2,1306.2 416.7,1309.1 418.6,1310.5 420.1,1311.8 421.4,1313.5 421.9,1315.5 422.9,1328.0 423.7,1333.8Z" fill="#AAE3DA" stroke="#404040" stroke-width="1.1" stroke-linejoin="round" clip-path="url(#clipb10)"/>
<line x1="423.99" y1="1290.42" x2="423.99" y2="1321.79" stroke="#4D4D4D" stroke-width="1.1" />
<line x1="423.99" y1="1298.85" x2="423.99" y2="1308.03" stroke="#4D4D4D" stroke-width="2.8" />
<circle cx="423.99" cy="1303.44" r="0.75" fill="#BBB"/>
<line x1="423.99" y1="1367.30" x2="423.99" y2="1369.80" stroke="#5A5A5A" stroke-width="1" />
<path d="M504.4,1352.4 505.8,1322.7 506.7,1313.9 507.0,1313.0 507.8,1311.8 512.0,1307.4 515.7,1302.7 516.7,1301.0 516.9,1299.5 516.6,1297.4 514.9,1293.0 513.1,1286.6 512.0,1283.6 511.0,1281.9 507.7,1277.7 506.8,1276.0 505.0,1269.5 504.6,1266.9 504.4,1264.5 503.8,1264.5 503.7,1266.9 503.3,1269.5 501.4,1276.0 500.5,1277.7 497.3,1281.9 496.2,1283.6 495.2,1286.6 493.4,1293.0 491.7,1297.4 491.3,1299.5 491.6,1301.0 492.6,1302.7 496.3,1307.4 500.5,1311.8 501.3,1313.0 501.6,1313.9 502.5,1322.7 503.8,1352.4Z" fill="#387D76" stroke="#404040" stroke-width="1.1" stroke-linejoin="round" clip-path="url(#clipb10)"/>
<line x1="504.13" y1="1264.50" x2="504.13" y2="1336.98" stroke="#4D4D4D" stroke-width="1.1" />
<line x1="504.13" y1="1287.38" x2="504.13" y2="1307.22" stroke="#4D4D4D" stroke-width="2.8" />
<circle cx="504.13" cy="1297.30" r="0.75" fill="#BBB"/>
<line x1="504.13" y1="1367.30" x2="504.13" y2="1369.80" stroke="#5A5A5A" stroke-width="1" />
<clipPath id="clipb10"><rect x="143.5" y="1106.9" width="400.70000000000005" height="260.39999999999986"/></clipPath>
<rect x="143.50" y="1106.90" width="400.70" height="260.40" fill="none" stroke="#5A5A5A" stroke-width="1.2" />
<line x1="143.50" y1="1106.90" x2="143.50" y2="1367.30" stroke="#8A8A8A" stroke-width="1.3" />
<line x1="139.50" y1="1106.90" x2="143.50" y2="1106.90" stroke="#5A5A5A" stroke-width="1" />
<line x1="139.50" y1="1137.90" x2="143.50" y2="1137.90" stroke="#5A5A5A" stroke-width="1" />
<line x1="139.50" y1="1168.90" x2="143.50" y2="1168.90" stroke="#5A5A5A" stroke-width="1" />
<line x1="139.50" y1="1199.90" x2="143.50" y2="1199.90" stroke="#5A5A5A" stroke-width="1" />
<line x1="139.50" y1="1230.90" x2="143.50" y2="1230.90" stroke="#5A5A5A" stroke-width="1" />
<line x1="139.50" y1="1261.90" x2="143.50" y2="1261.90" stroke="#5A5A5A" stroke-width="1" />
<line x1="139.50" y1="1292.90" x2="143.50" y2="1292.90" stroke="#5A5A5A" stroke-width="1" />
<line x1="139.50" y1="1323.90" x2="143.50" y2="1323.90" stroke="#5A5A5A" stroke-width="1" />
<line x1="139.50" y1="1354.90" x2="143.50" y2="1354.90" stroke="#5A5A5A" stroke-width="1" />
<rect x="567.00" y="1272.44" width="400.00" height="94.86" fill="#FCF2CD" />
<path d="M610.5,1367.3 613.7,1339.1 613.6,1307.3 613.0,1297.0 612.3,1293.8 610.0,1287.1 609.3,1284.2 608.1,1277.4 607.4,1271.3 606.9,1271.3 606.2,1277.4 605.0,1284.2 604.3,1287.1 602.0,1293.8 601.3,1297.0 600.7,1307.3 600.6,1339.1 603.8,1367.3Z" fill="#966A30" stroke="#404040" stroke-width="1.1" stroke-linejoin="round" clip-path="url(#clipb11)"/>
<line x1="607.15" y1="1271.32" x2="607.15" y2="1367.30" stroke="#4D4D4D" stroke-width="1.1" />
<line x1="607.15" y1="1308.83" x2="607.15" y2="1349.94" stroke="#4D4D4D" stroke-width="2.8" />
<circle cx="607.15" cy="1329.39" r="0.75" fill="#BBB"/>
<line x1="607.15" y1="1367.30" x2="607.15" y2="1369.80" stroke="#5A5A5A" stroke-width="1" />
<path d="M687.8,1336.3 688.6,1330.0 689.4,1314.1 689.7,1311.1 690.1,1310.4 691.1,1309.6 693.1,1308.5 702.8,1304.6 716.7,1300.2 718.3,1299.4 718.9,1298.5 718.9,1298.1 718.4,1297.4 716.8,1296.3 707.4,1291.8 698.6,1287.8 695.5,1285.9 692.0,1283.3 690.2,1281.3 689.3,1279.4 688.1,1275.0 687.8,1271.3 687.2,1271.3 686.8,1275.0 685.6,1279.4 684.7,1281.3 682.9,1283.3 679.4,1285.9 676.3,1287.8 667.5,1291.8 658.1,1296.3 656.5,1297.4 656.0,1298.1 656.0,1298.5 656.6,1299.4 658.2,1300.2 672.1,1304.6 681.8,1308.5 683.8,1309.6 684.8,1310.4 685.2,1311.1 685.5,1314.1 686.3,1330.0 687.2,1336.3Z" fill="#DDCA9E" stroke="#404040" stroke-width="1.1" stroke-linejoin="round" clip-path="url(#clipb11)"/>
<line x1="687.45" y1="1279.57" x2="687.45" y2="1316.77" stroke="#4D4D4D" stroke-width="1.1" />
<line x1="687.45" y1="1293.52" x2="687.45" y2="1302.82" stroke="#4D4D4D" stroke-width="2.8" />
<circle cx="687.45" cy="1298.17" r="0.75" fill="#BBB"/>
<line x1="687.45" y1="1367.30" x2="687.45" y2="1369.80" stroke="#5A5A5A" stroke-width="1" />
<path d="M768.0,1286.7 769.3,1281.4 771.3,1275.4 775.2,1268.1 776.2,1265.7 778.2,1258.4 778.7,1255.6 778.8,1253.2 778.5,1249.1 777.5,1244.3 775.2,1235.8 771.8,1226.1 770.9,1222.1 768.6,1193.8 768.2,1178.8 768.0,1165.9 767.5,1165.9 767.3,1178.8 766.9,1193.8 764.6,1222.1 763.7,1226.1 760.3,1235.8 758.0,1244.3 757.0,1249.1 756.7,1253.2 756.8,1255.6 757.3,1258.4 759.3,1265.7 760.3,1268.1 764.2,1275.4 766.2,1281.4 767.5,1286.7Z" fill="#F3F4F3" stroke="#404040" stroke-width="1.1" stroke-linejoin="round" clip-path="url(#clipb11)"/>
<line x1="767.75" y1="1198.32" x2="767.75" y2="1286.70" stroke="#4D4D4D" stroke-width="1.1" />
<line x1="767.75" y1="1237.10" x2="767.75" y2="1262.95" stroke="#4D4D4D" stroke-width="2.8" />
<circle cx="767.75" cy="1250.03" r="0.75" fill="#BBB"/>
<line x1="767.75" y1="1367.30" x2="767.75" y2="1369.80" stroke="#5A5A5A" stroke-width="1" />
<path d="M848.3,1330.7 849.0,1323.0 849.5,1309.1 850.0,1308.3 851.2,1307.2 855.0,1304.2 860.1,1301.0 861.9,1299.4 862.4,1297.6 863.1,1292.5 864.4,1287.9 864.6,1285.8 864.1,1282.0 862.5,1277.5 857.0,1267.3 851.9,1260.9 850.5,1258.8 849.0,1254.5 848.3,1250.7 847.8,1250.7 847.1,1254.5 845.6,1258.8 844.2,1260.9 839.1,1267.3 833.6,1277.5 832.0,1282.0 831.5,1285.8 831.7,1287.9 833.0,1292.5 833.7,1297.6 834.2,1299.4 836.0,1301.0 841.1,1304.2 844.9,1307.2 846.1,1308.3 846.6,1309.1 847.1,1323.0 847.8,1330.7Z" fill="#AAE3DA" stroke="#404040" stroke-width="1.1" stroke-linejoin="round" clip-path="url(#clipb11)"/>
<line x1="848.05" y1="1250.74" x2="848.05" y2="1325.45" stroke="#4D4D4D" stroke-width="1.1" />
<line x1="848.05" y1="1277.40" x2="848.05" y2="1296.62" stroke="#4D4D4D" stroke-width="2.8" />
<circle cx="848.05" cy="1287.01" r="0.75" fill="#BBB"/>
<line x1="848.05" y1="1367.30" x2="848.05" y2="1369.80" stroke="#5A5A5A" stroke-width="1" />
<path d="M928.6,1338.8 929.6,1334.6 930.1,1331.5 930.2,1321.6 930.3,1320.1 931.2,1317.2 933.1,1313.9 934.7,1312.7 938.2,1311.0 947.0,1307.5 958.2,1303.9 959.9,1303.1 960.6,1302.3 960.6,1301.9 960.2,1301.2 958.3,1300.0 955.5,1298.8 945.2,1294.8 936.7,1290.5 933.3,1288.4 931.9,1286.9 930.1,1283.2 929.0,1279.9 928.6,1276.8 928.0,1276.8 927.7,1279.9 926.6,1283.2 924.8,1286.9 923.4,1288.4 920.0,1290.5 911.5,1294.8 901.2,1298.8 898.4,1300.0 896.5,1301.2 896.1,1301.9 896.1,1302.3 896.8,1303.1 898.5,1303.9 909.7,1307.5 918.5,1311.0 922.0,1312.7 923.6,1313.9 925.5,1317.2 926.4,1320.1 926.5,1321.6 926.6,1331.5 927.1,1334.6 928.0,1338.8Z" fill="#387D76" stroke="#404040" stroke-width="1.1" stroke-linejoin="round" clip-path="url(#clipb11)"/>
<line x1="928.35" y1="1276.78" x2="928.35" y2="1333.82" stroke="#4D4D4D" stroke-width="1.1" />
<line x1="928.35" y1="1297.24" x2="928.35" y2="1311.87" stroke="#4D4D4D" stroke-width="2.8" />
<circle cx="928.35" cy="1304.56" r="0.75" fill="#BBB"/>
<line x1="928.35" y1="1367.30" x2="928.35" y2="1369.80" stroke="#5A5A5A" stroke-width="1" />
<clipPath id="clipb11"><rect x="567.0" y="1106.9" width="401.5" height="260.39999999999986"/></clipPath>
<rect x="567.00" y="1106.90" width="401.50" height="260.40" fill="none" stroke="#5A5A5A" stroke-width="1.2" />
<line x1="567.00" y1="1106.90" x2="567.00" y2="1367.30" stroke="#8A8A8A" stroke-width="1.3" />
<line x1="563.00" y1="1106.90" x2="567.00" y2="1106.90" stroke="#5A5A5A" stroke-width="1" />
<line x1="563.00" y1="1137.90" x2="567.00" y2="1137.90" stroke="#5A5A5A" stroke-width="1" />
<line x1="563.00" y1="1168.90" x2="567.00" y2="1168.90" stroke="#5A5A5A" stroke-width="1" />
<line x1="563.00" y1="1199.90" x2="567.00" y2="1199.90" stroke="#5A5A5A" stroke-width="1" />
<line x1="563.00" y1="1230.90" x2="567.00" y2="1230.90" stroke="#5A5A5A" stroke-width="1" />
<line x1="563.00" y1="1261.90" x2="567.00" y2="1261.90" stroke="#5A5A5A" stroke-width="1" />
<line x1="563.00" y1="1292.90" x2="567.00" y2="1292.90" stroke="#5A5A5A" stroke-width="1" />
<line x1="563.00" y1="1323.90" x2="567.00" y2="1323.90" stroke="#5A5A5A" stroke-width="1" />
<line x1="563.00" y1="1354.90" x2="567.00" y2="1354.90" stroke="#5A5A5A" stroke-width="1" />
<text x="124.6" y="1114.6" font-size="21.6" text-anchor="middle" fill="#111">30</text>
<text x="124.6" y="1145.6" font-size="21.6" text-anchor="middle" fill="#111">25</text>
<text x="124.6" y="1176.6" font-size="21.6" text-anchor="middle" fill="#111">20</text>
<text x="124.6" y="1207.6" font-size="21.6" text-anchor="middle" fill="#111">15</text>
<text x="124.6" y="1238.6" font-size="21.6" text-anchor="middle" fill="#111">10</text>
<text x="124.6" y="1269.6" font-size="21.6" text-anchor="middle" fill="#111">5</text>
<text x="124.6" y="1300.6" font-size="21.6" text-anchor="middle" fill="#111">0</text>
<text x="123.4" y="1331.6" font-size="21.6" text-anchor="middle" fill="#111">-5</text>
<text x="121.8" y="1362.6" font-size="21.6" text-anchor="middle" fill="#111">-10</text>
<rect x="143.50" y="1482.27" width="399.20" height="184.23" fill="#FCF2CD" />
<path d="M183.8,1666.5 183.9,1596.0 185.2,1562.3 185.8,1551.7 186.4,1545.1 186.7,1543.5 187.4,1541.0 189.7,1536.1 194.3,1527.9 201.1,1518.9 202.4,1516.4 202.9,1513.9 202.7,1511.5 201.9,1508.2 200.7,1504.9 199.1,1501.6 194.5,1493.4 189.2,1487.7 187.9,1486.1 187.1,1484.4 186.5,1482.0 185.8,1477.9 185.2,1472.9 184.3,1459.0 184.0,1448.3 183.9,1421.3 183.3,1421.3 183.1,1448.3 182.8,1459.0 181.9,1472.9 181.3,1477.9 180.6,1482.0 180.1,1484.4 179.2,1486.1 177.9,1487.7 172.6,1493.4 168.0,1501.6 166.4,1504.9 165.2,1508.2 164.4,1511.5 164.3,1513.9 164.8,1516.4 166.0,1518.9 172.8,1527.9 177.4,1536.1 179.7,1541.0 180.5,1543.5 180.8,1545.1 181.4,1551.7 182.0,1562.3 183.2,1596.0 183.4,1666.5Z" fill="#966A30" stroke="#404040" stroke-width="1.1" stroke-linejoin="round" clip-path="url(#clipb20)"/>
<line x1="183.57" y1="1470.35" x2="183.57" y2="1559.41" stroke="#4D4D4D" stroke-width="1.1" />
<line x1="183.57" y1="1503.75" x2="183.57" y2="1526.01" stroke="#4D4D4D" stroke-width="2.8" />
<circle cx="183.57" cy="1514.88" r="0.75" fill="#BBB"/>
<line x1="183.57" y1="1666.50" x2="183.57" y2="1669.00" stroke="#5A5A5A" stroke-width="1" />
<path d="M263.9,1666.5 264.4,1606.4 264.8,1578.5 265.2,1569.0 266.9,1545.4 267.8,1536.7 269.2,1530.6 272.1,1521.1 276.1,1512.4 277.0,1509.7 277.7,1507.1 277.8,1505.4 277.4,1501.9 276.4,1498.4 269.8,1483.6 266.4,1476.6 265.6,1474.0 265.0,1470.5 264.4,1465.3 264.2,1461.0 264.0,1406.1 263.4,1406.1 263.2,1461.0 263.0,1465.3 262.4,1470.5 261.9,1474.0 261.0,1476.6 257.6,1483.6 251.0,1498.4 250.0,1501.9 249.6,1505.4 249.7,1507.1 250.4,1509.7 251.4,1512.4 255.3,1521.1 258.2,1530.6 259.6,1536.7 260.6,1545.4 262.2,1569.0 262.6,1578.5 263.0,1606.4 263.5,1666.5Z" fill="#DDCA9E" stroke="#404040" stroke-width="1.1" stroke-linejoin="round" clip-path="url(#clipb20)"/>
<line x1="263.71" y1="1451.21" x2="263.71" y2="1585.58" stroke="#4D4D4D" stroke-width="1.1" />
<line x1="263.71" y1="1501.60" x2="263.71" y2="1535.19" stroke="#4D4D4D" stroke-width="2.8" />
<circle cx="263.71" cy="1518.40" r="0.75" fill="#BBB"/>
<line x1="263.71" y1="1666.50" x2="263.71" y2="1669.00" stroke="#5A5A5A" stroke-width="1" />
<path d="M344.2,1492.4 347.8,1485.4 351.9,1478.5 356.0,1472.5 356.9,1470.4 357.1,1468.7 356.8,1464.4 354.9,1455.7 354.4,1452.0 354.4,1448.8 355.0,1441.6 354.6,1437.0 353.8,1433.2 351.2,1424.6 346.2,1406.1 341.6,1406.1 336.5,1424.6 333.9,1433.2 333.1,1437.0 332.7,1441.6 333.3,1448.8 333.3,1452.0 332.8,1455.7 330.9,1464.4 330.6,1468.7 330.8,1470.4 331.7,1472.5 335.8,1478.5 339.9,1485.4 343.6,1492.4Z" fill="#F3F4F3" stroke="#404040" stroke-width="1.1" stroke-linejoin="round" clip-path="url(#clipb20)"/>
<line x1="343.85" y1="1406.10" x2="343.85" y2="1492.36" stroke="#4D4D4D" stroke-width="1.1" />
<line x1="343.85" y1="1433.77" x2="343.85" y2="1469.44" stroke="#4D4D4D" stroke-width="2.8" />
<circle cx="343.85" cy="1451.60" r="0.75" fill="#BBB"/>
<line x1="343.85" y1="1666.50" x2="343.85" y2="1669.00" stroke="#5A5A5A" stroke-width="1" />
<path d="M424.3,1578.6 425.0,1529.6 425.5,1525.1 426.6,1520.5 427.4,1519.4 429.0,1518.2 436.5,1514.2 449.0,1506.8 450.5,1505.7 451.5,1504.5 452.0,1503.4 452.0,1502.8 451.2,1501.1 449.6,1499.4 446.4,1497.1 438.2,1492.0 436.1,1490.3 435.1,1489.2 433.9,1486.9 432.5,1483.5 429.2,1472.1 426.3,1464.1 425.7,1461.2 425.1,1450.4 424.3,1408.2 423.7,1408.2 422.9,1450.4 422.3,1461.2 421.7,1464.1 418.8,1472.1 415.5,1483.5 414.1,1486.9 412.9,1489.2 411.9,1490.3 409.8,1492.0 401.6,1497.1 398.4,1499.4 396.7,1501.1 396.0,1502.8 396.0,1503.4 396.5,1504.5 397.5,1505.7 399.0,1506.8 411.4,1514.2 419.0,1518.2 420.5,1519.4 421.4,1520.5 422.5,1525.1 423.0,1529.6 423.7,1578.6Z" fill="#AAE3DA" stroke="#404040" stroke-width="1.1" stroke-linejoin="round" clip-path="url(#clipb20)"/>
<line x1="423.99" y1="1459.09" x2="423.99" y2="1535.65" stroke="#4D4D4D" stroke-width="1.1" />
<line x1="423.99" y1="1487.80" x2="423.99" y2="1506.94" stroke="#4D4D4D" stroke-width="2.8" />
<circle cx="423.99" cy="1497.37" r="0.75" fill="#BBB"/>
<line x1="423.99" y1="1666.50" x2="423.99" y2="1669.00" stroke="#5A5A5A" stroke-width="1" />
<path d="M504.4,1565.6 504.7,1551.4 505.1,1540.9 506.0,1527.1 506.5,1522.9 507.0,1520.0 508.0,1518.6 510.0,1516.7 518.2,1511.0 521.7,1509.1 529.9,1505.3 533.4,1503.4 535.8,1501.5 536.4,1500.1 536.3,1499.1 535.8,1497.7 534.7,1496.3 533.4,1494.9 530.5,1492.5 521.5,1486.3 517.8,1483.5 509.3,1475.4 507.4,1473.0 506.3,1471.1 505.3,1466.4 505.0,1460.7 504.7,1447.9 504.4,1423.7 503.8,1423.7 503.6,1447.9 503.3,1460.7 502.9,1466.4 501.9,1471.1 500.9,1473.0 498.9,1475.4 490.5,1483.5 486.8,1486.3 477.8,1492.5 474.9,1494.9 473.5,1496.3 472.5,1497.7 471.9,1499.1 471.8,1500.1 472.5,1501.5 474.8,1503.4 478.4,1505.3 486.6,1509.1 490.0,1511.0 498.2,1516.7 500.3,1518.6 501.2,1520.0 501.8,1522.9 502.3,1527.1 503.1,1540.9 503.6,1551.4 503.8,1565.6Z" fill="#387D76" stroke="#404040" stroke-width="1.1" stroke-linejoin="round" clip-path="url(#clipb20)"/>
<line x1="504.13" y1="1471.04" x2="504.13" y2="1525.98" stroke="#4D4D4D" stroke-width="1.1" />
<line x1="504.13" y1="1491.64" x2="504.13" y2="1505.38" stroke="#4D4D4D" stroke-width="2.8" />
<circle cx="504.13" cy="1498.51" r="0.75" fill="#BBB"/>
<line x1="504.13" y1="1666.50" x2="504.13" y2="1669.00" stroke="#5A5A5A" stroke-width="1" />
<clipPath id="clipb20"><rect x="143.5" y="1406.1" width="400.70000000000005" height="260.4000000000001"/></clipPath>
<rect x="143.50" y="1406.10" width="400.70" height="260.40" fill="none" stroke="#5A5A5A" stroke-width="1.2" />
<line x1="143.50" y1="1406.10" x2="143.50" y2="1666.50" stroke="#8A8A8A" stroke-width="1.3" />
<line x1="139.50" y1="1406.10" x2="143.50" y2="1406.10" stroke="#5A5A5A" stroke-width="1" />
<line x1="139.50" y1="1438.65" x2="143.50" y2="1438.65" stroke="#5A5A5A" stroke-width="1" />
<line x1="139.50" y1="1471.20" x2="143.50" y2="1471.20" stroke="#5A5A5A" stroke-width="1" />
<line x1="139.50" y1="1503.75" x2="143.50" y2="1503.75" stroke="#5A5A5A" stroke-width="1" />
<line x1="139.50" y1="1536.30" x2="143.50" y2="1536.30" stroke="#5A5A5A" stroke-width="1" />
<line x1="139.50" y1="1568.85" x2="143.50" y2="1568.85" stroke="#5A5A5A" stroke-width="1" />
<line x1="139.50" y1="1601.40" x2="143.50" y2="1601.40" stroke="#5A5A5A" stroke-width="1" />
<line x1="139.50" y1="1633.95" x2="143.50" y2="1633.95" stroke="#5A5A5A" stroke-width="1" />
<line x1="139.50" y1="1666.50" x2="143.50" y2="1666.50" stroke="#5A5A5A" stroke-width="1" />
<rect x="567.00" y="1482.27" width="400.00" height="184.23" fill="#FCF2CD" />
<path d="M607.4,1666.5 608.0,1590.7 608.4,1577.7 609.3,1563.7 612.2,1538.5 613.9,1527.2 615.2,1522.8 619.7,1512.4 620.4,1509.7 620.7,1507.1 620.4,1503.6 619.2,1499.3 617.8,1495.8 613.7,1487.1 610.0,1478.4 609.0,1475.8 608.6,1474.0 608.0,1465.3 607.7,1455.7 607.4,1406.1 606.9,1406.1 606.6,1455.7 606.3,1465.3 605.7,1474.0 605.3,1475.8 604.3,1478.4 600.6,1487.1 596.5,1495.8 595.1,1499.3 593.9,1503.6 593.6,1507.1 593.9,1509.7 594.6,1512.4 599.1,1522.8 600.4,1527.2 602.1,1538.5 605.0,1563.7 605.9,1577.7 606.3,1590.7 606.9,1666.5Z" fill="#966A30" stroke="#404040" stroke-width="1.1" stroke-linejoin="round" clip-path="url(#clipb21)"/>
<line x1="607.15" y1="1447.41" x2="607.15" y2="1597.66" stroke="#4D4D4D" stroke-width="1.1" />
<line x1="607.15" y1="1503.75" x2="607.15" y2="1541.31" stroke="#4D4D4D" stroke-width="2.8" />
<circle cx="607.15" cy="1522.53" r="0.75" fill="#BBB"/>
<line x1="607.15" y1="1666.50" x2="607.15" y2="1669.00" stroke="#5A5A5A" stroke-width="1" />
<path d="M687.7,1666.5 688.1,1564.9 688.5,1540.4 689.1,1528.9 689.9,1526.7 691.7,1523.8 695.5,1519.5 697.2,1518.0 701.5,1515.9 712.6,1511.6 715.8,1510.1 718.2,1508.7 719.0,1508.0 719.5,1507.2 719.6,1506.5 719.5,1505.8 718.5,1504.3 715.7,1502.2 711.7,1500.0 701.3,1495.0 697.7,1492.8 693.0,1488.5 691.0,1486.3 690.0,1484.9 689.0,1482.7 688.4,1479.1 688.0,1475.5 687.8,1451.0 687.2,1451.0 686.9,1475.5 686.5,1479.1 685.9,1482.7 684.9,1484.9 683.9,1486.3 681.9,1488.5 677.2,1492.8 673.6,1495.0 663.2,1500.0 659.2,1502.2 656.4,1504.3 655.4,1505.8 655.3,1506.5 655.4,1507.2 655.9,1508.0 656.7,1508.7 659.1,1510.1 662.3,1511.6 673.4,1515.9 677.7,1518.0 679.4,1519.5 683.2,1523.8 685.0,1526.7 685.8,1528.9 686.4,1540.4 686.8,1564.9 687.2,1666.5Z" fill="#DDCA9E" stroke="#404040" stroke-width="1.1" stroke-linejoin="round" clip-path="url(#clipb21)"/>
<line x1="687.45" y1="1484.42" x2="687.45" y2="1530.25" stroke="#4D4D4D" stroke-width="1.1" />
<line x1="687.45" y1="1501.60" x2="687.45" y2="1513.06" stroke="#4D4D4D" stroke-width="2.8" />
<circle cx="687.45" cy="1507.33" r="0.75" fill="#BBB"/>
<line x1="687.45" y1="1666.50" x2="687.45" y2="1669.00" stroke="#5A5A5A" stroke-width="1" />
<path d="M768.0,1492.4 769.7,1487.2 772.7,1481.1 774.1,1479.1 779.1,1473.6 780.1,1471.9 780.4,1470.4 780.2,1466.4 778.5,1455.1 778.4,1441.0 778.2,1437.8 777.2,1433.5 774.2,1423.7 770.0,1406.1 765.5,1406.1 761.3,1423.7 758.3,1433.5 757.3,1437.8 757.1,1441.0 757.0,1455.1 755.3,1466.4 755.1,1470.4 755.4,1471.9 756.4,1473.6 761.4,1479.1 762.8,1481.1 765.8,1487.2 767.5,1492.4Z" fill="#F3F4F3" stroke="#404040" stroke-width="1.1" stroke-linejoin="round" clip-path="url(#clipb21)"/>
<line x1="767.75" y1="1406.10" x2="767.75" y2="1492.36" stroke="#4D4D4D" stroke-width="1.1" />
<line x1="767.75" y1="1433.77" x2="767.75" y2="1468.73" stroke="#4D4D4D" stroke-width="2.8" />
<circle cx="767.75" cy="1451.25" r="0.75" fill="#BBB"/>
<line x1="767.75" y1="1666.50" x2="767.75" y2="1669.00" stroke="#5A5A5A" stroke-width="1" />
<path d="M848.2,1633.3 848.9,1559.6 849.9,1536.8 850.5,1530.0 851.0,1528.4 852.5,1526.2 858.7,1520.1 866.6,1511.0 868.6,1507.9 869.2,1506.4 869.4,1504.9 869.4,1503.4 868.9,1501.1 867.2,1497.3 861.1,1487.4 854.8,1480.6 853.1,1478.3 852.2,1476.8 851.7,1475.2 849.9,1469.2 849.2,1464.6 848.5,1450.9 848.3,1406.1 847.8,1406.1 847.6,1450.9 846.9,1464.6 846.2,1469.2 844.4,1475.2 843.9,1476.8 843.0,1478.3 841.3,1480.6 835.0,1487.4 828.9,1497.3 827.2,1501.1 826.7,1503.4 826.7,1504.9 826.9,1506.4 827.5,1507.9 829.5,1511.0 837.4,1520.1 843.6,1526.2 845.1,1528.4 845.6,1530.0 846.2,1536.8 847.2,1559.6 847.8,1633.3Z" fill="#AAE3DA" stroke="#404040" stroke-width="1.1" stroke-linejoin="round" clip-path="url(#clipb21)"/>
<line x1="848.05" y1="1470.29" x2="848.05" y2="1537.47" stroke="#4D4D4D" stroke-width="1.1" />
<line x1="848.05" y1="1495.48" x2="848.05" y2="1512.28" stroke="#4D4D4D" stroke-width="2.8" />
<circle cx="848.05" cy="1503.88" r="0.75" fill="#BBB"/>
<line x1="848.05" y1="1666.50" x2="848.05" y2="1669.00" stroke="#5A5A5A" stroke-width="1" />
<path d="M928.6,1526.0 929.1,1523.6 930.4,1520.4 931.2,1519.2 932.8,1517.6 939.7,1512.4 951.8,1506.4 953.7,1504.8 954.0,1503.6 953.7,1502.0 952.6,1499.9 946.0,1492.3 939.7,1482.3 932.7,1469.5 931.4,1466.7 930.6,1464.3 929.7,1458.2 929.3,1450.6 928.9,1434.6 928.6,1406.1 928.0,1406.1 927.8,1434.6 927.4,1450.6 927.0,1458.2 926.1,1464.3 925.3,1466.7 924.0,1469.5 917.0,1482.3 910.7,1492.3 904.1,1499.9 903.0,1502.0 902.7,1503.6 903.0,1504.8 904.9,1506.4 917.0,1512.4 923.9,1517.6 925.5,1519.2 926.3,1520.4 927.6,1523.6 928.0,1526.0Z" fill="#387D76" stroke="#404040" stroke-width="1.1" stroke-linejoin="round" clip-path="url(#clipb21)"/>
<line x1="928.35" y1="1455.84" x2="928.35" y2="1526.01" stroke="#4D4D4D" stroke-width="1.1" />
<line x1="928.35" y1="1485.52" x2="928.35" y2="1505.31" stroke="#4D4D4D" stroke-width="2.8" />
<circle cx="928.35" cy="1495.42" r="0.75" fill="#BBB"/>
<line x1="928.35" y1="1666.50" x2="928.35" y2="1669.00" stroke="#5A5A5A" stroke-width="1" />
<clipPath id="clipb21"><rect x="567.0" y="1406.1" width="401.5" height="260.4000000000001"/></clipPath>
<rect x="567.00" y="1406.10" width="401.50" height="260.40" fill="none" stroke="#5A5A5A" stroke-width="1.2" />
<line x1="567.00" y1="1406.10" x2="567.00" y2="1666.50" stroke="#8A8A8A" stroke-width="1.3" />
<line x1="563.00" y1="1406.10" x2="567.00" y2="1406.10" stroke="#5A5A5A" stroke-width="1" />
<line x1="563.00" y1="1438.65" x2="567.00" y2="1438.65" stroke="#5A5A5A" stroke-width="1" />
<line x1="563.00" y1="1471.20" x2="567.00" y2="1471.20" stroke="#5A5A5A" stroke-width="1" />
<line x1="563.00" y1="1503.75" x2="567.00" y2="1503.75" stroke="#5A5A5A" stroke-width="1" />
<line x1="563.00" y1="1536.30" x2="567.00" y2="1536.30" stroke="#5A5A5A" stroke-width="1" />
<line x1="563.00" y1="1568.85" x2="567.00" y2="1568.85" stroke="#5A5A5A" stroke-width="1" />
<line x1="563.00" y1="1601.40" x2="567.00" y2="1601.40" stroke="#5A5A5A" stroke-width="1" />
<line x1="563.00" y1="1633.95" x2="567.00" y2="1633.95" stroke="#5A5A5A" stroke-width="1" />
<line x1="563.00" y1="1666.50" x2="567.00" y2="1666.50" stroke="#5A5A5A" stroke-width="1" />
<text x="124.6" y="1413.8" font-size="21.6" text-anchor="middle" fill="#111">15</text>
<text x="124.6" y="1446.3" font-size="21.6" text-anchor="middle" fill="#111">10</text>
<text x="124.6" y="1478.9" font-size="21.6" text-anchor="middle" fill="#111">5</text>
<text x="124.6" y="1511.5" font-size="21.6" text-anchor="middle" fill="#111">0</text>
<text x="123.4" y="1544.0" font-size="21.6" text-anchor="middle" fill="#111">-5</text>
<text x="121.8" y="1576.5" font-size="21.6" text-anchor="middle" fill="#111">-10</text>
<text x="121.8" y="1609.1" font-size="21.6" text-anchor="middle" fill="#111">-15</text>
<text x="121.8" y="1641.7" font-size="21.6" text-anchor="middle" fill="#111">-20</text>
<text x="121.8" y="1674.2" font-size="21.6" text-anchor="middle" fill="#111">-25</text>
<text x="1.8" y="947.5" font-size="27.5" font-weight="bold" fill="#231F20" textLength="56.3" lengthAdjust="spacingAndGlyphs">PCP</text>
<text x="0.0" y="1238.0" font-size="27.5" font-weight="bold" fill="#231F20" textLength="60.5" lengthAdjust="spacingAndGlyphs">MCP</text>
<text x="0.0" y="1542.0" font-size="27.5" font-weight="bold" fill="#231F20" textLength="59.5" lengthAdjust="spacingAndGlyphs">QCP</text>
<text transform="translate(94.2,977.0) rotate(-90)" font-size="33" font-style="italic" fill="#111">R<tspan font-size="20" dy="11" dx="2">score</tspan></text>
<text transform="translate(94.2,1266.0) rotate(-90)" font-size="33" font-style="italic" fill="#111">R<tspan font-size="20" dy="11" dx="2">score</tspan></text>
<text transform="translate(94.2,1572.0) rotate(-90)" font-size="33" font-style="italic" fill="#111">R<tspan font-size="20" dy="11" dx="2">score</tspan></text>
<text x="172.2" y="1702.5" font-size="24.5" fill="#111" textLength="20.1" lengthAdjust="spacingAndGlyphs">-2</text>
<text x="252.3" y="1702.5" font-size="24.5" fill="#111" textLength="18.5" lengthAdjust="spacingAndGlyphs">-1</text>
<text x="290.5" y="1702.5" font-size="24.5" fill="#111" textLength="109.6" lengthAdjust="spacingAndGlyphs">WT length</text>
<text x="411.4" y="1702.5" font-size="24.5" fill="#111" textLength="25.7" lengthAdjust="spacingAndGlyphs">+1</text>
<text x="491.5" y="1702.5" font-size="24.5" fill="#111" textLength="27.9" lengthAdjust="spacingAndGlyphs">+2</text>
<text x="594.4" y="1702.5" font-size="24.5" fill="#111" textLength="20.1" lengthAdjust="spacingAndGlyphs">-2</text>
<text x="675.0" y="1702.5" font-size="24.5" fill="#111" textLength="18.5" lengthAdjust="spacingAndGlyphs">-1</text>
<text x="711.5" y="1702.5" font-size="24.5" fill="#111" textLength="110.1" lengthAdjust="spacingAndGlyphs">WT length</text>
<text x="830.2" y="1702.5" font-size="24.5" fill="#111" textLength="25.7" lengthAdjust="spacingAndGlyphs">+1</text>
<text x="910.8" y="1702.5" font-size="24.5" fill="#111" textLength="27.5" lengthAdjust="spacingAndGlyphs">+2</text>
<circle cx="606.0" cy="1373.2" r="0.9" fill="#777"/>
<circle cx="687.0" cy="1373.2" r="0.9" fill="#777"/>
<text x="227.9" y="1752.3" font-size="27.8" font-weight="bold" fill="#231F20" textLength="247.0" lengthAdjust="spacingAndGlyphs">upper stem length</text>
<text x="693.0" y="1752.3" font-size="27.8" font-weight="bold" fill="#231F20" textLength="153.5" lengthAdjust="spacingAndGlyphs">loop length</text>
<text x="1009.0" y="795.8" font-size="57" font-weight="bold" fill="#000">c</text>
<clipPath id="clipc00"><rect x="1164.3" y="813.4" width="278.20000000000005" height="260.5000000000001"/></clipPath>
<g clip-path="url(#clipc00)">
<rect x="1164.30" y="813.40" width="278.20" height="260.50" fill="#fff0e9" />
<path d="M1165.2,1073.9 1245.8,1073.9 1272.4,1055.8 1280.8,1048.8 1287.9,1041.8 1295.4,1033.0 1301.8,1023.7 1307.7,1013.4 1312.8,1002.3 1317.0,990.6 1320.3,978.5 1322.6,966.4 1324.1,953.9 1324.6,941.3 1324.2,928.3 1322.9,915.7 1320.7,903.2 1317.8,892.0 1314.4,881.8 1310.4,872.0 1305.5,862.2 1296.3,847.4 1278.4,823.6 1271.5,813.4 1164.3,813.4 1164.3,1073.9Z" fill="#fee5da" fill-rule="evenodd"/>
<path d="M1165.2,1073.9 1206.9,1073.9 1253.0,1025.5 1264.2,1012.5 1270.8,1003.2 1276.1,993.9 1280.6,984.1 1284.2,973.9 1287.8,958.1 1289.2,941.8 1288.3,925.0 1285.3,908.8 1281.8,897.1 1277.2,885.5 1256.1,843.1 1243.5,813.4 1166.9,813.4 1164.3,818.0 1164.3,1073.9Z" fill="#fdd7c6" fill-rule="evenodd"/>
<path d="M1179.1,1064.8 1183.8,1064.9 1188.4,1063.8 1194.0,1061.1 1199.5,1057.2 1205.5,1052.0 1212.3,1045.1 1229.5,1025.1 1244.4,1005.5 1254.5,989.2 1258.4,981.3 1261.4,973.9 1263.9,966.0 1265.8,957.6 1267.4,945.0 1267.5,932.0 1266.0,918.5 1262.9,904.6 1258.2,889.7 1250.1,868.3 1235.1,831.1 1226.8,813.4 1182.6,813.4 1174.1,826.0 1164.3,842.7 1164.3,1054.5 1168.0,1058.6 1171.7,1061.7 1175.4,1063.7Z" fill="#fcc5ae" fill-rule="evenodd"/>
<path d="M1183.8,1045.1 1188.4,1044.5 1193.0,1042.7 1197.7,1040.0 1203.2,1035.6 1214.7,1023.7 1227.0,1007.4 1237.1,991.1 1244.3,975.7 1249.3,960.4 1251.8,945.0 1252.3,936.7 1252.1,928.3 1249.9,910.6 1244.8,889.7 1236.9,866.0 1228.3,844.7 1224.3,836.7 1220.4,830.1 1216.2,824.8 1212.5,821.4 1208.8,819.3 1205.1,818.4 1200.5,818.8 1195.8,820.8 1191.2,824.2 1186.6,828.8 1181.0,835.7 1175.5,843.6 1164.3,863.5 1164.3,1031.0 1168.9,1037.2 1173.6,1041.5 1178.2,1044.0Z" fill="#fcb297" fill-rule="evenodd"/>
<path d="M1184.7,1027.9 1188.4,1027.7 1193.0,1026.3 1196.8,1024.3 1201.4,1021.0 1210.7,1011.5 1219.6,999.5 1227.6,985.5 1233.7,971.6 1237.9,957.6 1240.2,943.2 1240.7,927.8 1239.2,911.6 1235.4,893.4 1230.0,875.3 1223.6,859.7 1217.2,848.1 1214.0,844.1 1210.7,841.0 1207.0,838.7 1203.2,837.8 1198.6,838.2 1194.0,840.2 1189.3,843.7 1184.7,848.5 1179.1,855.8 1174.2,863.6 1169.0,873.4 1164.3,883.6 1164.3,1009.1 1168.9,1017.0 1173.6,1022.5 1179.1,1026.4Z" fill="#fc9f81" fill-rule="evenodd"/>
<path d="M1184.7,1011.7 1187.5,1011.9 1191.2,1011.4 1194.9,1010.0 1198.6,1007.7 1206.0,1000.8 1213.1,991.6 1219.5,980.4 1224.8,967.8 1228.5,955.3 1230.6,942.3 1231.3,928.8 1230.3,914.3 1227.7,899.5 1223.7,885.0 1219.0,873.3 1213.4,863.8 1210.7,860.4 1207.9,858.0 1205.1,856.4 1201.4,855.4 1196.8,855.9 1192.1,858.1 1187.5,862.0 1181.9,868.7 1176.8,876.7 1172.0,886.0 1167.8,896.2 1164.3,906.8 1164.3,984.6 1168.5,995.3 1173.6,1003.8 1176.4,1006.9 1179.1,1009.3 1181.9,1010.8Z" fill="#fc8b6d" fill-rule="evenodd"/>
<path d="M1188.4,995.8 1191.2,995.5 1194.0,994.6 1199.5,991.1 1205.1,985.3 1209.8,978.5 1214.4,969.6 1218.1,959.6 1220.7,949.2 1222.2,938.5 1222.6,927.4 1221.9,916.2 1219.9,904.6 1217.1,894.3 1213.4,885.5 1208.8,878.3 1204.2,874.2 1199.5,872.7 1194.9,873.4 1189.3,877.0 1183.8,883.3 1179.1,890.8 1174.5,900.9 1171.1,911.1 1168.4,922.3 1166.8,933.9 1166.3,945.5 1166.9,956.7 1168.6,967.4 1171.2,976.7 1174.6,984.6 1179.1,991.1 1183.8,994.6Z" fill="#fb795a" fill-rule="evenodd"/>
<path d="M1188.4,977.2 1192.1,977.3 1195.8,975.8 1199.5,972.8 1203.8,967.4 1207.0,961.5 1209.7,954.3 1211.7,946.9 1213.0,938.5 1213.5,930.2 1213.2,922.3 1212.1,914.3 1210.2,906.9 1207.9,901.1 1204.8,896.2 1201.4,893.1 1197.7,891.9 1194.0,892.6 1190.3,895.0 1186.6,899.1 1183.8,903.5 1181.0,909.3 1178.3,917.1 1176.4,925.0 1175.2,932.5 1174.7,940.4 1174.9,948.3 1175.8,955.7 1177.3,962.3 1179.1,967.4 1181.9,972.3 1184.7,975.3Z" fill="#f8654a" fill-rule="evenodd"/>
<path d="M1192.1,947.7 1193.0,947.8 1194.9,947.0 1196.8,944.8 1198.6,940.3 1199.4,935.7 1199.5,931.1 1198.6,926.4 1196.8,923.2 1194.9,922.4 1193.0,923.0 1191.2,925.0 1189.3,929.1 1188.3,933.9 1188.2,938.5 1188.8,942.7 1190.3,946.2Z" fill="#f24f3d" fill-rule="evenodd"/>
<line x1="1164.30" y1="897.13" x2="1331.22" y2="813.40" stroke="#2148A8" stroke-width="3.7" stroke-dasharray="2.5,0.8"/>
<circle cx="1219.9" cy="825.5" r="4.1" fill="#3A80BD"/>
</g>
<rect x="1164.30" y="813.40" width="278.20" height="260.50" fill="none" stroke="#6E6E6E" stroke-width="1.2" />
<line x1="1161.30" y1="1073.90" x2="1164.30" y2="1073.90" stroke="#000" stroke-width="2.4" />
<line x1="1161.30" y1="1036.69" x2="1164.30" y2="1036.69" stroke="#000" stroke-width="2.4" />
<line x1="1161.30" y1="999.47" x2="1164.30" y2="999.47" stroke="#000" stroke-width="2.4" />
<line x1="1161.30" y1="962.26" x2="1164.30" y2="962.26" stroke="#000" stroke-width="2.4" />
<line x1="1161.30" y1="925.04" x2="1164.30" y2="925.04" stroke="#000" stroke-width="2.4" />
<line x1="1161.30" y1="887.83" x2="1164.30" y2="887.83" stroke="#000" stroke-width="2.4" />
<line x1="1161.30" y1="850.61" x2="1164.30" y2="850.61" stroke="#000" stroke-width="2.4" />
<line x1="1161.30" y1="813.40" x2="1164.30" y2="813.40" stroke="#000" stroke-width="2.4" />
<line x1="1182.85" y1="1073.90" x2="1182.85" y2="1076.90" stroke="#000" stroke-width="2.4" />
<line x1="1219.94" y1="1073.90" x2="1219.94" y2="1076.90" stroke="#000" stroke-width="2.4" />
<line x1="1257.03" y1="1073.90" x2="1257.03" y2="1076.90" stroke="#000" stroke-width="2.4" />
<line x1="1294.13" y1="1073.90" x2="1294.13" y2="1076.90" stroke="#000" stroke-width="2.4" />
<line x1="1331.22" y1="1073.90" x2="1331.22" y2="1076.90" stroke="#000" stroke-width="2.4" />
<line x1="1368.31" y1="1073.90" x2="1368.31" y2="1076.90" stroke="#000" stroke-width="2.4" />
<line x1="1405.41" y1="1073.90" x2="1405.41" y2="1076.90" stroke="#000" stroke-width="2.4" />
<line x1="1442.50" y1="1073.90" x2="1442.50" y2="1076.90" stroke="#000" stroke-width="2.4" />
<text x="1157.8" y="1083.0" font-size="25.5" text-anchor="end" fill="#000">-6</text>
<text x="1157.8" y="1045.8" font-size="25.5" text-anchor="end" fill="#000">-4</text>
<text x="1157.8" y="1008.6" font-size="25.5" text-anchor="end" fill="#000">-2</text>
<text x="1157.8" y="971.4" font-size="25.5" text-anchor="end" fill="#000">0</text>
<text x="1157.8" y="934.1" font-size="25.5" text-anchor="end" fill="#000">2</text>
<text x="1157.8" y="896.9" font-size="25.5" text-anchor="end" fill="#000">4</text>
<text x="1157.8" y="859.7" font-size="25.5" text-anchor="end" fill="#000">6</text>
<text x="1157.8" y="822.5" font-size="25.5" text-anchor="end" fill="#000">8</text>
<clipPath id="clipc01"><rect x="1564.3" y="815.2" width="278.20000000000005" height="260.70000000000005"/></clipPath>
<g clip-path="url(#clipc01)">
<rect x="1564.30" y="815.20" width="278.20" height="260.70" fill="#fff0e9" />
<path d="M1565.2,1075.9 1633.7,1075.9 1633.8,1066.6 1636.2,1060.5 1641.1,1053.6 1652.6,1041.9 1655.7,1037.3 1656.8,1033.5 1658.3,1021.4 1659.6,1017.2 1661.1,1014.0 1665.4,1007.2 1670.9,999.9 1687.0,982.3 1691.0,977.2 1694.4,970.7 1699.7,955.9 1702.4,950.7 1705.2,947.4 1709.0,944.6 1714.5,941.5 1730.0,934.4 1733.3,932.0 1735.4,929.7 1737.2,925.5 1737.4,922.7 1733.6,912.0 1732.9,904.6 1733.7,893.9 1737.0,865.9 1737.4,856.2 1737.0,847.3 1735.3,837.1 1732.9,829.2 1729.2,821.7 1724.3,815.2 1564.3,815.2 1564.3,1075.9Z" fill="#fee5da" fill-rule="evenodd"/>
<path d="M1588.4,1075.7 1594.0,1075.6 1596.4,1074.5 1598.6,1072.9 1610.4,1059.1 1628.9,1039.1 1630.5,1035.9 1635.7,1022.0 1639.4,1014.2 1647.8,999.3 1664.1,973.0 1669.3,962.8 1676.8,946.0 1686.7,934.1 1689.7,931.1 1694.1,927.7 1694.8,926.5 1694.8,916.7 1698.5,898.1 1699.3,889.2 1699.5,879.9 1699.0,871.5 1697.8,864.1 1696.0,857.1 1693.5,850.6 1690.2,844.5 1686.2,838.9 1681.3,833.8 1676.1,829.6 1670.2,825.9 1663.5,822.6 1643.5,815.2 1564.3,815.2 1564.3,1052.7 1581.0,1071.1 1584.7,1074.0Z" fill="#fdd7c6" fill-rule="evenodd"/>
<path d="M1589.3,1045.2 1594.0,1045.0 1599.5,1043.7 1605.1,1041.1 1609.7,1037.8 1615.3,1031.3 1627.9,1011.2 1644.5,983.3 1650.9,971.6 1656.4,960.4 1662.6,946.0 1669.3,934.4 1670.3,931.6 1670.9,927.4 1675.6,920.4 1677.4,915.3 1679.5,906.4 1680.8,893.4 1680.5,885.5 1679.7,878.0 1678.2,871.1 1676.2,865.0 1673.3,859.0 1670.1,853.8 1665.9,848.7 1661.1,844.1 1655.0,839.4 1647.8,835.0 1639.0,830.6 1628.1,825.9 1616.2,821.5 1607.0,818.6 1598.6,816.9 1592.1,816.4 1584.7,817.1 1577.3,819.4 1570.8,822.9 1564.3,828.2 1564.3,1033.6 1570.8,1038.4 1577.3,1042.1 1583.8,1044.4Z" fill="#fcc5ae" fill-rule="evenodd"/>
<path d="M1583.8,1029.3 1588.4,1029.7 1593.0,1029.3 1597.7,1027.8 1602.3,1025.3 1607.0,1021.7 1611.6,1017.1 1616.5,1011.2 1621.4,1004.2 1632.3,987.0 1639.0,974.9 1645.4,962.3 1652.9,944.6 1658.6,933.4 1664.5,917.2 1666.3,909.2 1667.2,902.3 1667.3,895.7 1666.7,888.8 1665.6,882.2 1664.0,876.2 1661.8,870.6 1659.1,865.5 1655.9,860.8 1651.9,856.2 1646.8,851.5 1640.6,846.9 1633.8,842.6 1626.2,838.5 1618.1,834.9 1610.7,832.2 1603.2,830.3 1596.8,829.4 1587.5,829.8 1579.1,832.3 1571.7,836.8 1564.3,843.8 1564.3,1020.3 1574.5,1026.3 1579.1,1028.2Z" fill="#fcb297" fill-rule="evenodd"/>
<path d="M1582.8,1017.3 1588.4,1017.5 1593.0,1016.7 1597.7,1014.9 1602.3,1012.1 1606.8,1008.4 1610.7,1004.3 1622.9,987.9 1628.8,978.1 1636.1,964.2 1645.9,941.1 1651.7,929.3 1654.7,917.2 1656.3,906.4 1656.5,900.9 1656.0,895.3 1653.2,882.7 1648.9,872.9 1642.5,864.1 1638.4,859.9 1633.3,855.7 1621.8,848.5 1615.3,845.4 1608.8,843.0 1603.2,841.5 1597.7,840.7 1589.3,841.1 1584.7,842.2 1581.0,843.7 1572.6,849.0 1564.3,857.1 1564.3,1008.9 1568.9,1012.0 1573.6,1014.5 1578.2,1016.3Z" fill="#fc9f81" fill-rule="evenodd"/>
<path d="M1581.9,1006.6 1585.6,1006.9 1589.3,1006.6 1593.0,1005.6 1597.1,1003.7 1605.1,997.7 1613.9,988.4 1620.6,978.6 1628.9,963.7 1633.2,954.4 1640.1,936.7 1645.3,926.9 1645.5,921.3 1647.1,907.8 1646.9,899.9 1645.8,894.3 1644.0,887.8 1641.8,882.2 1639.0,877.1 1635.7,872.4 1631.6,867.8 1627.0,863.6 1621.9,859.9 1616.2,856.6 1610.7,854.2 1605.1,852.5 1599.5,851.5 1594.0,851.3 1589.3,851.8 1584.7,853.1 1580.1,855.0 1575.4,857.9 1571.8,860.8 1564.3,869.2 1564.3,997.5 1568.9,1001.0 1573.6,1003.8 1577.9,1005.6Z" fill="#fc8b6d" fill-rule="evenodd"/>
<path d="M1581.9,996.0 1585.6,996.2 1589.3,995.8 1596.8,993.2 1603.3,988.8 1609.7,982.1 1617.2,971.5 1624.2,959.1 1627.5,951.6 1633.2,935.8 1636.7,928.3 1637.4,926.0 1638.8,909.7 1638.5,902.3 1636.0,892.9 1631.2,882.7 1625.2,874.8 1617.2,868.0 1608.8,863.4 1604.2,861.8 1599.5,860.8 1594.9,860.5 1590.3,861.0 1585.6,862.2 1581.0,864.4 1576.4,867.7 1571.7,871.8 1567.7,876.2 1564.3,880.9 1564.3,986.7 1568.0,989.9 1572.6,992.8 1577.3,994.8Z" fill="#fb795a" fill-rule="evenodd"/>
<path d="M1581.9,986.6 1585.6,986.9 1589.3,986.5 1595.8,984.0 1602.3,979.0 1608.8,971.7 1615.3,962.3 1619.8,953.9 1629.4,926.0 1630.8,913.4 1630.8,906.0 1629.5,899.5 1626.2,892.0 1620.8,883.6 1614.9,877.6 1607.9,873.2 1599.5,870.6 1594.0,870.3 1589.3,871.0 1584.7,872.5 1580.1,875.0 1576.4,877.7 1572.6,881.4 1564.3,893.3 1564.3,974.6 1568.3,979.1 1572.6,982.6 1577.3,985.2Z" fill="#f8654a" fill-rule="evenodd"/>
<path d="M1584.7,976.3 1587.5,976.2 1591.2,975.3 1597.7,971.9 1604.2,966.0 1609.7,958.9 1613.4,952.3 1616.3,944.6 1619.0,935.3 1622.8,918.1 1623.2,911.1 1622.7,905.5 1621.1,900.4 1618.6,895.7 1613.4,889.3 1608.3,884.6 1603.2,881.5 1597.7,879.9 1593.0,879.7 1589.2,880.4 1584.7,882.2 1581.0,884.7 1576.4,889.0 1569.9,896.4 1566.5,901.3 1564.3,906.4 1564.3,960.9 1568.5,967.0 1573.6,971.8 1579.1,975.1Z" fill="#f24f3d" fill-rule="evenodd"/>
<path d="M1583.8,965.2 1589.3,965.1 1594.9,962.9 1599.9,959.1 1604.3,953.9 1607.0,948.8 1609.7,941.0 1611.4,933.0 1611.0,927.4 1613.2,923.2 1614.4,919.0 1614.9,913.9 1614.7,909.2 1613.7,905.0 1611.9,901.3 1609.3,898.1 1606.0,895.3 1602.3,893.2 1597.7,891.6 1593.0,891.3 1588.4,892.1 1583.8,894.0 1578.9,897.1 1575.4,900.4 1572.9,904.1 1570.9,908.8 1569.4,914.4 1568.1,925.1 1567.2,938.1 1567.4,945.1 1568.5,950.7 1570.8,956.0 1574.5,960.5 1579.1,963.7Z" fill="#e53d33" fill-rule="evenodd"/>
<path d="M1586.6,953.0 1590.3,952.4 1593.0,950.8 1595.8,947.9 1597.7,944.9 1600.5,937.3 1602.3,925.1 1604.1,918.5 1604.2,912.5 1602.6,907.4 1599.5,903.8 1594.9,901.8 1591.2,901.6 1588.4,902.2 1585.7,903.7 1583.8,905.3 1580.3,910.6 1578.2,918.2 1577.0,927.9 1577.1,938.6 1577.9,944.2 1579.1,947.6 1581.0,950.3 1583.8,952.3Z" fill="#d32e2c" fill-rule="evenodd"/>
<line x1="1564.30" y1="899.00" x2="1731.22" y2="815.20" stroke="#2148A8" stroke-width="3.7" stroke-dasharray="2.5,0.8"/>
<circle cx="1618.1" cy="913.9" r="4.1" fill="#3A80BD"/>
</g>
<rect x="1564.30" y="815.20" width="278.20" height="260.70" fill="none" stroke="#6E6E6E" stroke-width="1.2" />
<line x1="1561.30" y1="1075.90" x2="1564.30" y2="1075.90" stroke="#000" stroke-width="2.4" />
<line x1="1561.30" y1="1038.66" x2="1564.30" y2="1038.66" stroke="#000" stroke-width="2.4" />
<line x1="1561.30" y1="1001.41" x2="1564.30" y2="1001.41" stroke="#000" stroke-width="2.4" />
<line x1="1561.30" y1="964.17" x2="1564.30" y2="964.17" stroke="#000" stroke-width="2.4" />
<line x1="1561.30" y1="926.93" x2="1564.30" y2="926.93" stroke="#000" stroke-width="2.4" />
<line x1="1561.30" y1="889.69" x2="1564.30" y2="889.69" stroke="#000" stroke-width="2.4" />
<line x1="1561.30" y1="852.44" x2="1564.30" y2="852.44" stroke="#000" stroke-width="2.4" />
<line x1="1561.30" y1="815.20" x2="1564.30" y2="815.20" stroke="#000" stroke-width="2.4" />
<line x1="1582.85" y1="1075.90" x2="1582.85" y2="1078.90" stroke="#000" stroke-width="2.4" />
<line x1="1619.94" y1="1075.90" x2="1619.94" y2="1078.90" stroke="#000" stroke-width="2.4" />
<line x1="1657.03" y1="1075.90" x2="1657.03" y2="1078.90" stroke="#000" stroke-width="2.4" />
<line x1="1694.13" y1="1075.90" x2="1694.13" y2="1078.90" stroke="#000" stroke-width="2.4" />
<line x1="1731.22" y1="1075.90" x2="1731.22" y2="1078.90" stroke="#000" stroke-width="2.4" />
<line x1="1768.31" y1="1075.90" x2="1768.31" y2="1078.90" stroke="#000" stroke-width="2.4" />
<line x1="1805.41" y1="1075.90" x2="1805.41" y2="1078.90" stroke="#000" stroke-width="2.4" />
<line x1="1842.50" y1="1075.90" x2="1842.50" y2="1078.90" stroke="#000" stroke-width="2.4" />
<text x="1557.8" y="1085.0" font-size="25.5" text-anchor="end" fill="#000">-6</text>
<text x="1557.8" y="1047.8" font-size="25.5" text-anchor="end" fill="#000">-4</text>
<text x="1557.8" y="1010.5" font-size="25.5" text-anchor="end" fill="#000">-2</text>
<text x="1557.8" y="973.3" font-size="25.5" text-anchor="end" fill="#000">0</text>
<text x="1557.8" y="936.0" font-size="25.5" text-anchor="end" fill="#000">2</text>
<text x="1557.8" y="898.8" font-size="25.5" text-anchor="end" fill="#000">4</text>
<text x="1557.8" y="861.5" font-size="25.5" text-anchor="end" fill="#000">6</text>
<text x="1557.8" y="824.3" font-size="25.5" text-anchor="end" fill="#000">8</text>
<clipPath id="clipc10"><rect x="1163.8" y="1105.3" width="278.20000000000005" height="260.29999999999995"/></clipPath>
<g clip-path="url(#clipc10)">
<rect x="1163.80" y="1105.30" width="278.20" height="260.30" fill="#ffeee6" />
<path d="M1203.7,1321.1 1212.9,1321.4 1222.2,1320.8 1257.5,1315.9 1271.4,1314.5 1327.9,1311.7 1362.2,1309.3 1396.6,1305.8 1442.0,1300.2 1442.0,1200.1 1428.1,1203.8 1413.3,1206.0 1397.5,1206.9 1378.0,1206.6 1266.7,1200.9 1247.0,1198.3 1216.7,1191.6 1206.5,1190.8 1199.0,1191.6 1190.7,1193.7 1163.8,1204.8 1163.8,1311.7 1187.9,1318.4Z" fill="#fedecf" fill-rule="evenodd"/>
<path d="M1205.5,1306.6 1224.1,1306.5 1251.0,1304.7 1305.7,1302.3 1335.4,1300.4 1377.1,1296.0 1442.0,1287.1 1442.0,1213.7 1431.8,1216.0 1421.6,1217.5 1410.5,1218.2 1397.5,1218.2 1379.9,1217.3 1322.4,1212.9 1265.8,1210.5 1225.9,1207.6 1212.9,1207.3 1202.7,1208.0 1191.6,1209.8 1179.6,1212.8 1163.8,1217.9 1163.8,1299.4 1187.0,1304.5Z" fill="#fcc3ac" fill-rule="evenodd"/>
<path d="M1209.2,1299.2 1225.0,1299.5 1248.2,1298.7 1299.2,1296.0 1328.9,1293.6 1371.5,1288.4 1442.0,1276.8 1442.0,1224.4 1433.7,1226.0 1425.3,1227.0 1416.0,1227.5 1405.8,1227.4 1389.1,1226.2 1342.8,1221.2 1315.9,1218.9 1292.7,1217.8 1220.4,1215.4 1206.5,1216.1 1193.5,1217.9 1179.6,1221.2 1163.8,1226.2 1163.8,1291.2 1187.0,1296.6 1198.1,1298.2Z" fill="#fca78b" fill-rule="evenodd"/>
<path d="M1212.9,1293.6 1234.3,1293.8 1270.4,1292.3 1303.8,1290.1 1331.6,1287.3 1353.0,1284.3 1374.2,1280.5 1393.7,1276.4 1427.2,1268.3 1442.0,1265.6 1442.0,1235.8 1429.0,1237.4 1415.1,1237.2 1397.5,1235.3 1347.4,1227.6 1320.5,1224.7 1286.2,1222.6 1230.6,1221.2 1212.9,1221.6 1197.2,1223.6 1181.4,1227.3 1163.8,1233.3 1163.8,1284.3 1175.9,1287.8 1188.8,1290.7 1200.9,1292.6Z" fill="#fc8b6d" fill-rule="evenodd"/>
<path d="M1222.2,1288.9 1251.0,1288.6 1293.6,1286.0 1323.3,1282.9 1349.5,1278.7 1375.0,1272.6 1385.2,1269.4 1393.4,1266.1 1399.6,1262.9 1403.3,1260.1 1406.2,1255.9 1406.6,1253.1 1405.6,1251.3 1403.5,1249.4 1396.2,1245.7 1382.0,1241.0 1365.1,1236.8 1347.4,1233.4 1328.9,1230.6 1310.3,1228.7 1289.9,1227.3 1247.3,1225.6 1226.9,1225.9 1212.0,1226.8 1199.0,1228.7 1187.0,1231.6 1174.9,1235.5 1163.8,1240.2 1163.8,1277.3 1176.8,1282.0 1191.6,1285.7 1206.5,1287.9Z" fill="#fb6f51" fill-rule="evenodd"/>
<path d="M1223.1,1284.3 1248.2,1284.2 1282.5,1282.2 1308.5,1279.7 1331.6,1276.2 1352.0,1271.4 1366.9,1266.1 1372.2,1263.3 1375.8,1260.6 1377.9,1257.8 1378.2,1255.0 1377.2,1252.6 1375.0,1250.3 1367.8,1246.1 1356.3,1242.0 1341.6,1238.2 1325.2,1235.3 1307.5,1233.1 1288.1,1231.6 1264.0,1230.6 1243.6,1230.2 1228.7,1230.4 1215.7,1231.3 1204.6,1232.8 1192.5,1235.5 1181.4,1239.1 1171.2,1243.7 1163.8,1248.3 1163.8,1268.9 1166.6,1270.8 1177.7,1276.1 1191.6,1280.3 1206.5,1283.0Z" fill="#f2513e" fill-rule="evenodd"/>
<path d="M1225.0,1279.6 1245.4,1279.6 1275.1,1278.2 1298.3,1276.0 1317.5,1273.1 1333.7,1269.4 1346.7,1264.7 1351.0,1262.4 1354.0,1260.1 1355.6,1257.8 1356.0,1255.4 1355.2,1253.6 1353.2,1251.3 1349.8,1248.9 1345.6,1246.9 1333.6,1242.9 1319.6,1239.8 1303.8,1237.6 1285.3,1236.0 1264.9,1235.1 1240.8,1234.9 1226.9,1235.2 1215.7,1236.2 1205.5,1237.8 1195.3,1240.3 1186.1,1243.6 1178.1,1247.5 1172.1,1251.8 1168.2,1256.4 1168.1,1257.8 1169.2,1260.6 1172.4,1264.7 1177.7,1268.7 1184.7,1272.2 1193.5,1275.2 1202.7,1277.3 1212.9,1278.8Z" fill="#de3730" fill-rule="evenodd"/>
<path d="M1231.5,1275.0 1250.0,1274.8 1271.4,1273.7 1289.9,1271.9 1304.8,1269.5 1317.3,1266.6 1327.3,1262.9 1332.7,1259.2 1333.9,1257.3 1334.0,1255.4 1333.2,1253.6 1331.8,1252.2 1326.3,1248.9 1318.4,1246.1 1307.5,1243.6 1295.5,1241.8 1281.6,1240.5 1246.3,1239.4 1222.2,1240.5 1212.9,1241.7 1204.6,1243.5 1196.4,1246.1 1189.4,1249.4 1184.1,1253.1 1181.7,1256.4 1181.6,1259.2 1184.3,1262.9 1188.8,1266.2 1195.7,1269.4 1202.7,1271.6 1211.1,1273.3 1220.4,1274.4Z" fill="#c42528" fill-rule="evenodd"/>
<path d="M1232.4,1269.4 1245.4,1269.6 1260.2,1268.9 1275.1,1267.7 1287.1,1266.0 1297.1,1263.8 1303.7,1261.5 1308.1,1258.7 1309.1,1257.3 1309.3,1255.9 1307.9,1253.6 1304.1,1251.3 1298.8,1249.4 1290.8,1247.6 1271.4,1245.4 1247.3,1244.7 1228.7,1245.5 1214.8,1247.6 1208.7,1249.4 1203.7,1251.6 1200.1,1254.0 1198.4,1256.4 1198.3,1258.7 1199.7,1261.0 1202.8,1263.3 1206.9,1265.2 1217.8,1268.0Z" fill="#a71f22" fill-rule="evenodd"/>
<path d="M1237.1,1261.5 1253.8,1261.7 1264.0,1261.0 1271.9,1259.2 1274.3,1257.8 1274.9,1256.4 1274.4,1255.4 1273.1,1254.5 1268.7,1253.1 1262.1,1252.2 1253.8,1251.8 1242.6,1251.9 1235.2,1252.5 1229.0,1254.0 1226.2,1255.9 1225.9,1257.8 1227.8,1259.5 1231.5,1260.7Z" fill="#7b161d" fill-rule="evenodd"/>
<line x1="1163.80" y1="1188.97" x2="1330.72" y2="1105.30" stroke="#2148A8" stroke-width="3.7" stroke-dasharray="2.5,0.8"/>
<circle cx="1176.8" cy="1281.0" r="4.1" fill="#3A80BD"/>
</g>
<rect x="1163.80" y="1105.30" width="278.20" height="260.30" fill="none" stroke="#6E6E6E" stroke-width="1.2" />
<line x1="1160.80" y1="1365.60" x2="1163.80" y2="1365.60" stroke="#000" stroke-width="2.4" />
<line x1="1160.80" y1="1328.41" x2="1163.80" y2="1328.41" stroke="#000" stroke-width="2.4" />
<line x1="1160.80" y1="1291.23" x2="1163.80" y2="1291.23" stroke="#000" stroke-width="2.4" />
<line x1="1160.80" y1="1254.04" x2="1163.80" y2="1254.04" stroke="#000" stroke-width="2.4" />
<line x1="1160.80" y1="1216.86" x2="1163.80" y2="1216.86" stroke="#000" stroke-width="2.4" />
<line x1="1160.80" y1="1179.67" x2="1163.80" y2="1179.67" stroke="#000" stroke-width="2.4" />
<line x1="1160.80" y1="1142.49" x2="1163.80" y2="1142.49" stroke="#000" stroke-width="2.4" />
<line x1="1160.80" y1="1105.30" x2="1163.80" y2="1105.30" stroke="#000" stroke-width="2.4" />
<line x1="1182.35" y1="1365.60" x2="1182.35" y2="1368.60" stroke="#000" stroke-width="2.4" />
<line x1="1219.44" y1="1365.60" x2="1219.44" y2="1368.60" stroke="#000" stroke-width="2.4" />
<line x1="1256.53" y1="1365.60" x2="1256.53" y2="1368.60" stroke="#000" stroke-width="2.4" />
<line x1="1293.63" y1="1365.60" x2="1293.63" y2="1368.60" stroke="#000" stroke-width="2.4" />
<line x1="1330.72" y1="1365.60" x2="1330.72" y2="1368.60" stroke="#000" stroke-width="2.4" />
<line x1="1367.81" y1="1365.60" x2="1367.81" y2="1368.60" stroke="#000" stroke-width="2.4" />
<line x1="1404.91" y1="1365.60" x2="1404.91" y2="1368.60" stroke="#000" stroke-width="2.4" />
<line x1="1442.00" y1="1365.60" x2="1442.00" y2="1368.60" stroke="#000" stroke-width="2.4" />
<text x="1157.3" y="1374.7" font-size="25.5" text-anchor="end" fill="#000">-6</text>
<text x="1157.3" y="1337.5" font-size="25.5" text-anchor="end" fill="#000">-4</text>
<text x="1157.3" y="1300.3" font-size="25.5" text-anchor="end" fill="#000">-2</text>
<text x="1157.3" y="1263.1" font-size="25.5" text-anchor="end" fill="#000">0</text>
<text x="1157.3" y="1226.0" font-size="25.5" text-anchor="end" fill="#000">2</text>
<text x="1157.3" y="1188.8" font-size="25.5" text-anchor="end" fill="#000">4</text>
<text x="1157.3" y="1151.6" font-size="25.5" text-anchor="end" fill="#000">6</text>
<text x="1157.3" y="1114.4" font-size="25.5" text-anchor="end" fill="#000">8</text>
<clipPath id="clipc11"><rect x="1564.3" y="1106.5" width="278.20000000000005" height="260.5999999999999"/></clipPath>
<g clip-path="url(#clipc11)">
<rect x="1564.30" y="1106.50" width="278.20" height="260.60" fill="#ffeee6" />
<path d="M1565.2,1312.0 1596.8,1310.0 1657.5,1303.8 1716.4,1301.8 1750.7,1298.8 1769.2,1296.1 1784.1,1293.3 1823.0,1281.9 1842.5,1277.8 1842.5,1171.7 1779.4,1169.0 1761.8,1169.0 1745.1,1169.7 1712.7,1172.8 1654.3,1181.2 1564.3,1188.4 1564.3,1312.0Z" fill="#fedecf" fill-rule="evenodd"/>
<path d="M1565.2,1306.4 1671.9,1298.5 1715.5,1294.0 1735.9,1290.9 1755.3,1287.3 1813.8,1273.8 1842.5,1269.4 1842.5,1196.8 1810.0,1187.9 1794.9,1184.7 1779.4,1182.8 1760.0,1182.6 1731.2,1183.9 1696.9,1186.9 1633.8,1193.8 1564.3,1202.4 1564.3,1306.4Z" fill="#fcc3ac" fill-rule="evenodd"/>
<path d="M1565.2,1301.5 1644.1,1297.6 1670.0,1295.1 1697.8,1291.4 1720.1,1287.7 1740.5,1283.6 1799.8,1268.9 1842.5,1259.7 1842.5,1207.9 1824.2,1204.7 1790.6,1197.8 1774.8,1195.3 1753.5,1193.5 1728.4,1193.3 1696.0,1195.0 1660.7,1198.7 1637.6,1202.1 1599.5,1209.0 1564.3,1214.3 1564.3,1301.6Z" fill="#fca78b" fill-rule="evenodd"/>
<path d="M1565.2,1297.3 1629.2,1295.7 1644.1,1294.8 1658.0,1293.4 1683.9,1289.6 1711.4,1284.7 1733.1,1280.0 1755.3,1274.0 1781.1,1266.1 1801.8,1259.1 1813.4,1254.5 1831.4,1246.0 1842.5,1242.2 1842.5,1217.1 1776.7,1205.7 1760.4,1203.3 1736.8,1201.3 1714.5,1201.1 1687.6,1202.7 1663.5,1205.5 1646.8,1208.7 1618.6,1215.4 1582.8,1220.7 1564.3,1224.7 1564.3,1297.3Z" fill="#fc8b6d" fill-rule="evenodd"/>
<path d="M1565.2,1293.3 1624.6,1293.2 1643.1,1292.3 1659.8,1290.2 1683.9,1286.2 1702.5,1282.6 1719.1,1278.7 1745.9,1270.8 1758.5,1266.1 1769.2,1261.5 1778.4,1256.3 1784.2,1251.7 1787.3,1247.5 1790.9,1239.6 1793.1,1237.3 1800.8,1234.4 1819.6,1230.3 1821.9,1229.4 1822.3,1228.4 1819.6,1227.0 1812.3,1225.2 1750.5,1212.1 1729.4,1209.4 1707.1,1208.5 1689.5,1209.1 1672.8,1211.0 1659.8,1213.5 1632.9,1219.6 1600.5,1224.6 1585.6,1227.7 1576.5,1230.3 1564.3,1234.5 1564.3,1293.3Z" fill="#fb6f51" fill-rule="evenodd"/>
<path d="M1565.2,1290.3 1635.7,1290.3 1658.0,1287.5 1690.2,1281.5 1705.8,1277.8 1718.7,1274.0 1730.7,1269.8 1740.3,1265.7 1747.8,1261.5 1753.0,1257.3 1755.8,1253.1 1756.3,1250.8 1756.2,1248.9 1755.0,1246.6 1752.5,1243.7 1744.2,1237.5 1734.0,1232.7 1714.6,1226.6 1712.9,1225.2 1712.2,1221.4 1710.9,1219.6 1707.0,1217.7 1701.5,1216.6 1693.2,1216.3 1681.1,1217.6 1620.9,1226.9 1605.3,1229.8 1589.9,1234.0 1569.1,1241.0 1564.3,1243.0 1564.3,1290.3Z" fill="#f2513e" fill-rule="evenodd"/>
<path d="M1582.8,1287.1 1606.0,1286.9 1625.5,1287.4 1635.7,1287.1 1655.2,1284.8 1678.4,1280.5 1701.2,1274.5 1710.5,1271.2 1718.0,1268.0 1723.7,1264.7 1727.8,1261.5 1730.1,1258.2 1730.4,1254.9 1729.5,1253.1 1727.5,1251.1 1720.1,1246.8 1686.0,1232.6 1674.9,1229.4 1666.3,1228.4 1656.1,1228.6 1635.7,1230.8 1619.0,1233.6 1607.4,1236.8 1593.2,1242.8 1587.5,1246.2 1574.9,1255.9 1569.9,1258.7 1564.3,1260.9 1564.3,1286.3Z" fill="#de3730" fill-rule="evenodd"/>
<path d="M1565.2,1283.9 1629.2,1284.1 1642.2,1283.3 1656.1,1281.3 1677.3,1276.8 1686.8,1274.0 1694.3,1271.2 1700.0,1268.4 1704.1,1265.7 1706.5,1262.9 1707.2,1260.1 1706.7,1258.7 1705.4,1257.3 1700.3,1254.5 1692.3,1252.1 1681.1,1250.0 1669.1,1248.6 1641.3,1246.7 1632.0,1246.8 1622.7,1247.9 1606.0,1251.8 1580.0,1261.0 1564.3,1265.4 1564.3,1283.9Z" fill="#c42528" fill-rule="evenodd"/>
<path d="M1605.1,1280.5 1620.9,1280.9 1632.9,1280.6 1645.0,1279.4 1657.0,1277.3 1668.2,1274.5 1677.0,1271.2 1682.8,1267.5 1684.1,1265.7 1684.3,1264.3 1682.9,1261.9 1679.9,1260.1 1674.7,1258.3 1668.2,1257.0 1649.6,1255.1 1630.1,1255.1 1615.3,1256.8 1600.5,1260.2 1579.1,1266.6 1575.1,1268.4 1573.0,1270.8 1573.1,1272.6 1575.0,1275.0 1575.7,1276.8 1576.6,1277.8 1578.8,1278.7 1587.5,1279.9Z" fill="#a71f22" fill-rule="evenodd"/>
<path d="M1613.4,1276.9 1630.1,1276.6 1645.6,1274.5 1652.5,1272.6 1656.9,1270.8 1659.3,1268.9 1659.7,1267.0 1658.7,1265.7 1656.5,1264.3 1649.6,1262.2 1639.4,1261.0 1627.4,1261.0 1615.3,1262.7 1601.5,1266.1 1594.0,1268.9 1591.9,1270.3 1591.1,1271.7 1592.1,1273.3 1596.8,1275.0 1603.2,1276.1Z" fill="#7b161d" fill-rule="evenodd"/>
<line x1="1564.30" y1="1190.26" x2="1731.22" y2="1106.50" stroke="#2148A8" stroke-width="3.7" stroke-dasharray="2.5,0.8"/>
<circle cx="1577.3" cy="1195.8" r="4.1" fill="#3A80BD"/>
</g>
<rect x="1564.30" y="1106.50" width="278.20" height="260.60" fill="none" stroke="#6E6E6E" stroke-width="1.2" />
<line x1="1561.30" y1="1367.10" x2="1564.30" y2="1367.10" stroke="#000" stroke-width="2.4" />
<line x1="1561.30" y1="1329.87" x2="1564.30" y2="1329.87" stroke="#000" stroke-width="2.4" />
<line x1="1561.30" y1="1292.64" x2="1564.30" y2="1292.64" stroke="#000" stroke-width="2.4" />
<line x1="1561.30" y1="1255.41" x2="1564.30" y2="1255.41" stroke="#000" stroke-width="2.4" />
<line x1="1561.30" y1="1218.19" x2="1564.30" y2="1218.19" stroke="#000" stroke-width="2.4" />
<line x1="1561.30" y1="1180.96" x2="1564.30" y2="1180.96" stroke="#000" stroke-width="2.4" />
<line x1="1561.30" y1="1143.73" x2="1564.30" y2="1143.73" stroke="#000" stroke-width="2.4" />
<line x1="1561.30" y1="1106.50" x2="1564.30" y2="1106.50" stroke="#000" stroke-width="2.4" />
<line x1="1582.85" y1="1367.10" x2="1582.85" y2="1370.10" stroke="#000" stroke-width="2.4" />
<line x1="1619.94" y1="1367.10" x2="1619.94" y2="1370.10" stroke="#000" stroke-width="2.4" />
<line x1="1657.03" y1="1367.10" x2="1657.03" y2="1370.10" stroke="#000" stroke-width="2.4" />
<line x1="1694.13" y1="1367.10" x2="1694.13" y2="1370.10" stroke="#000" stroke-width="2.4" />
<line x1="1731.22" y1="1367.10" x2="1731.22" y2="1370.10" stroke="#000" stroke-width="2.4" />
<line x1="1768.31" y1="1367.10" x2="1768.31" y2="1370.10" stroke="#000" stroke-width="2.4" />
<line x1="1805.41" y1="1367.10" x2="1805.41" y2="1370.10" stroke="#000" stroke-width="2.4" />
<line x1="1842.50" y1="1367.10" x2="1842.50" y2="1370.10" stroke="#000" stroke-width="2.4" />
<text x="1557.8" y="1376.2" font-size="25.5" text-anchor="end" fill="#000">-6</text>
<text x="1557.8" y="1339.0" font-size="25.5" text-anchor="end" fill="#000">-4</text>
<text x="1557.8" y="1301.7" font-size="25.5" text-anchor="end" fill="#000">-2</text>
<text x="1557.8" y="1264.5" font-size="25.5" text-anchor="end" fill="#000">0</text>
<text x="1557.8" y="1227.3" font-size="25.5" text-anchor="end" fill="#000">2</text>
<text x="1557.8" y="1190.1" font-size="25.5" text-anchor="end" fill="#000">4</text>
<text x="1557.8" y="1152.8" font-size="25.5" text-anchor="end" fill="#000">6</text>
<text x="1557.8" y="1115.6" font-size="25.5" text-anchor="end" fill="#000">8</text>
<clipPath id="clipc20"><rect x="1163.8" y="1398.2" width="278.5" height="260.0"/></clipPath>
<g clip-path="url(#clipc20)">
<rect x="1163.80" y="1398.20" width="278.50" height="260.00" fill="#fff2eb" />
<path d="M1195.4,1622.5 1210.2,1622.9 1224.1,1622.4 1240.9,1620.9 1258.5,1618.5 1278.9,1614.8 1327.6,1603.9 1359.8,1597.4 1410.2,1588.1 1442.3,1583.0 1442.3,1489.6 1368.0,1489.7 1347.6,1488.6 1331.2,1486.4 1318.8,1483.5 1307.3,1479.5 1298.4,1475.3 1278.9,1464.4 1265.0,1458.5 1246.4,1453.5 1226.0,1450.1 1211.1,1449.1 1198.1,1450.0 1184.2,1452.6 1163.8,1458.2 1163.8,1618.5 1179.6,1621.0Z" fill="#feebe1" fill-rule="evenodd"/>
<path d="M1208.4,1607.6 1227.9,1607.2 1249.2,1605.0 1269.6,1601.4 1315.2,1592.3 1342.0,1587.6 1392.7,1580.2 1442.3,1574.1 1442.3,1503.1 1402.4,1504.2 1332.8,1507.2 1309.5,1507.0 1295.6,1505.6 1282.5,1502.7 1270.7,1498.5 1249.2,1489.0 1239.0,1485.0 1227.9,1481.6 1217.6,1479.7 1207.4,1479.0 1194.4,1480.1 1181.4,1482.6 1163.8,1487.3 1163.8,1601.3 1187.0,1605.6Z" fill="#fee3d7" fill-rule="evenodd"/>
<path d="M1208.4,1598.3 1229.7,1598.2 1251.1,1596.0 1267.8,1593.3 1308.6,1585.1 1331.8,1581.0 1363.4,1576.3 1421.9,1568.7 1442.3,1565.1 1442.3,1513.5 1420.0,1513.2 1396.8,1513.6 1371.7,1514.6 1323.5,1517.6 1301.2,1517.7 1287.3,1516.3 1274.3,1513.8 1262.8,1510.6 1232.5,1500.5 1222.3,1497.9 1213.0,1496.4 1201.9,1495.6 1189.8,1495.9 1176.8,1497.4 1163.8,1499.8 1163.8,1591.5 1174.9,1594.3 1186.1,1596.3 1197.2,1597.6Z" fill="#fed9c9" fill-rule="evenodd"/>
<path d="M1211.1,1592.3 1232.5,1591.8 1254.8,1589.2 1270.6,1586.4 1322.5,1575.5 1347.6,1571.4 1405.9,1563.0 1420.3,1560.2 1432.7,1557.0 1442.3,1553.8 1442.3,1522.4 1419.1,1521.2 1393.1,1521.2 1368.0,1522.2 1320.7,1525.3 1299.3,1525.4 1285.4,1524.1 1272.4,1521.8 1259.3,1518.5 1229.7,1509.5 1220.4,1507.4 1211.1,1506.0 1199.1,1505.0 1187.9,1505.2 1175.9,1506.6 1163.8,1509.1 1163.8,1584.0 1174.0,1587.1 1185.2,1589.5 1198.1,1591.3Z" fill="#fdccb7" fill-rule="evenodd"/>
<path d="M1218.6,1587.2 1236.2,1586.5 1254.8,1584.0 1269.6,1581.0 1306.8,1571.9 1328.1,1567.3 1350.4,1563.2 1387.5,1557.5 1402.0,1554.7 1415.4,1551.0 1426.7,1546.3 1432.4,1542.1 1434.5,1538.9 1434.9,1537.0 1434.1,1535.6 1432.1,1534.1 1424.7,1531.6 1413.5,1529.9 1399.6,1528.9 1370.8,1529.1 1316.0,1532.6 1303.0,1532.5 1291.0,1531.6 1279.8,1530.0 1268.7,1527.7 1220.4,1514.8 1212.1,1513.2 1204.6,1512.4 1194.4,1512.1 1184.2,1512.7 1174.0,1514.2 1163.8,1516.7 1163.8,1576.7 1174.1,1581.1 1187.0,1584.5 1200.9,1586.4Z" fill="#fcbfa7" fill-rule="evenodd"/>
<path d="M1212.1,1583.0 1224.1,1582.9 1236.2,1582.0 1248.3,1580.3 1260.3,1577.8 1277.4,1573.2 1305.8,1564.4 1319.7,1559.8 1336.5,1553.4 1344.8,1551.7 1368.1,1548.6 1378.1,1546.8 1385.7,1544.4 1387.8,1543.1 1388.4,1541.7 1387.6,1540.7 1384.6,1539.8 1375.5,1539.0 1364.3,1539.2 1328.1,1541.4 1313.3,1541.1 1298.4,1539.7 1285.4,1537.7 1272.4,1535.0 1226.9,1522.6 1215.8,1520.5 1201.9,1518.9 1190.7,1518.7 1180.5,1519.7 1171.0,1521.7 1163.8,1524.5 1163.8,1567.9 1167.4,1570.9 1171.8,1573.7 1182.4,1578.1 1196.3,1581.4Z" fill="#fcb297" fill-rule="evenodd"/>
<path d="M1211.1,1578.4 1223.2,1578.6 1235.3,1577.6 1247.5,1575.6 1260.3,1572.3 1275.0,1567.2 1288.3,1561.2 1295.1,1556.5 1296.4,1554.7 1296.6,1552.8 1295.4,1551.0 1292.7,1549.1 1283.6,1545.4 1237.6,1531.0 1219.5,1526.6 1205.6,1524.8 1191.6,1524.8 1181.4,1526.5 1177.0,1528.2 1174.0,1530.0 1171.2,1532.8 1168.8,1536.6 1166.6,1541.7 1165.2,1546.8 1165.0,1550.5 1165.9,1556.5 1167.0,1559.3 1168.8,1562.1 1172.2,1565.7 1175.8,1568.6 1184.9,1573.2 1197.2,1576.7Z" fill="#fca588" fill-rule="evenodd"/>
<path d="M1211.1,1573.7 1221.4,1574.0 1231.4,1573.2 1240.9,1571.6 1250.6,1569.1 1260.1,1565.3 1267.6,1561.2 1272.1,1557.0 1273.0,1555.1 1272.9,1553.7 1271.1,1551.4 1267.8,1549.1 1255.7,1543.5 1235.3,1536.6 1218.6,1532.5 1207.4,1531.1 1197.2,1531.4 1188.9,1533.5 1182.7,1537.0 1177.2,1542.6 1173.2,1549.1 1172.0,1553.7 1174.3,1557.5 1177.2,1560.7 1181.1,1564.0 1185.3,1566.7 1189.8,1569.0 1200.0,1572.2Z" fill="#fc9779" fill-rule="evenodd"/>
<path d="M1214.9,1568.6 1221.4,1568.6 1228.8,1567.8 1236.0,1566.3 1241.8,1564.4 1247.4,1561.6 1250.9,1558.8 1252.5,1556.1 1252.3,1553.7 1250.8,1551.4 1247.9,1549.1 1243.6,1546.8 1237.8,1544.5 1224.1,1540.7 1211.1,1539.2 1201.9,1539.7 1193.5,1542.0 1186.1,1546.3 1183.3,1548.7 1181.2,1551.4 1180.8,1553.7 1182.3,1556.1 1186.1,1559.0 1192.6,1562.7 1198.1,1565.2 1203.7,1567.0 1209.3,1568.1Z" fill="#fc8a6c" fill-rule="evenodd"/>
<path d="M1213.0,1559.3 1220.4,1559.4 1226.9,1558.1 1230.6,1555.9 1231.4,1554.7 1231.3,1553.3 1229.1,1551.0 1225.1,1549.2 1219.5,1548.0 1213.0,1547.5 1205.6,1547.8 1200.0,1548.8 1195.4,1550.7 1193.3,1552.8 1193.3,1553.7 1194.4,1554.9 1198.8,1557.0 1204.6,1558.4Z" fill="#fb7d5f" fill-rule="evenodd"/>
<line x1="1163.80" y1="1481.77" x2="1330.90" y2="1398.20" stroke="#2148A8" stroke-width="3.7" stroke-dasharray="2.5,0.8"/>
<circle cx="1425.6" cy="1531.9" r="4.1" fill="#3A80BD"/>
</g>
<rect x="1163.80" y="1398.20" width="278.50" height="260.00" fill="none" stroke="#6E6E6E" stroke-width="1.2" />
<line x1="1160.80" y1="1658.20" x2="1163.80" y2="1658.20" stroke="#000" stroke-width="2.4" />
<line x1="1160.80" y1="1621.06" x2="1163.80" y2="1621.06" stroke="#000" stroke-width="2.4" />
<line x1="1160.80" y1="1583.91" x2="1163.80" y2="1583.91" stroke="#000" stroke-width="2.4" />
<line x1="1160.80" y1="1546.77" x2="1163.80" y2="1546.77" stroke="#000" stroke-width="2.4" />
<line x1="1160.80" y1="1509.63" x2="1163.80" y2="1509.63" stroke="#000" stroke-width="2.4" />
<line x1="1160.80" y1="1472.49" x2="1163.80" y2="1472.49" stroke="#000" stroke-width="2.4" />
<line x1="1160.80" y1="1435.34" x2="1163.80" y2="1435.34" stroke="#000" stroke-width="2.4" />
<line x1="1160.80" y1="1398.20" x2="1163.80" y2="1398.20" stroke="#000" stroke-width="2.4" />
<line x1="1182.37" y1="1658.20" x2="1182.37" y2="1661.20" stroke="#000" stroke-width="2.4" />
<line x1="1219.50" y1="1658.20" x2="1219.50" y2="1661.20" stroke="#000" stroke-width="2.4" />
<line x1="1256.63" y1="1658.20" x2="1256.63" y2="1661.20" stroke="#000" stroke-width="2.4" />
<line x1="1293.77" y1="1658.20" x2="1293.77" y2="1661.20" stroke="#000" stroke-width="2.4" />
<line x1="1330.90" y1="1658.20" x2="1330.90" y2="1661.20" stroke="#000" stroke-width="2.4" />
<line x1="1368.03" y1="1658.20" x2="1368.03" y2="1661.20" stroke="#000" stroke-width="2.4" />
<line x1="1405.17" y1="1658.20" x2="1405.17" y2="1661.20" stroke="#000" stroke-width="2.4" />
<line x1="1442.30" y1="1658.20" x2="1442.30" y2="1661.20" stroke="#000" stroke-width="2.4" />
<text x="1157.3" y="1667.3" font-size="25.5" text-anchor="end" fill="#000">-6</text>
<text x="1157.3" y="1630.2" font-size="25.5" text-anchor="end" fill="#000">-4</text>
<text x="1157.3" y="1593.0" font-size="25.5" text-anchor="end" fill="#000">-2</text>
<text x="1157.3" y="1555.9" font-size="25.5" text-anchor="end" fill="#000">0</text>
<text x="1157.3" y="1518.7" font-size="25.5" text-anchor="end" fill="#000">2</text>
<text x="1157.3" y="1481.6" font-size="25.5" text-anchor="end" fill="#000">4</text>
<text x="1157.3" y="1444.4" font-size="25.5" text-anchor="end" fill="#000">6</text>
<text x="1157.3" y="1407.3" font-size="25.5" text-anchor="end" fill="#000">8</text>
<text x="1182.4" y="1686.7" font-size="25.5" text-anchor="middle" fill="#000">4</text>
<text x="1219.5" y="1686.7" font-size="25.5" text-anchor="middle" fill="#000">5</text>
<text x="1256.6" y="1686.7" font-size="25.5" text-anchor="middle" fill="#000">6</text>
<text x="1293.8" y="1686.7" font-size="25.5" text-anchor="middle" fill="#000">7</text>
<text x="1330.9" y="1686.7" font-size="25.5" text-anchor="middle" fill="#000">8</text>
<text x="1368.0" y="1686.7" font-size="25.5" text-anchor="middle" fill="#000">9</text>
<text x="1405.2" y="1686.7" font-size="25.5" text-anchor="middle" fill="#000">10</text>
<text x="1442.3" y="1686.7" font-size="25.5" text-anchor="middle" fill="#000">11</text>
<clipPath id="clipc21"><rect x="1564.6" y="1401.2" width="278.20000000000005" height="260.20000000000005"/></clipPath>
<g clip-path="url(#clipc21)">
<rect x="1564.60" y="1401.20" width="278.20" height="260.20" fill="#fff2eb" />
<path d="M1564.6,1635.4 1605.4,1633.4 1627.7,1631.3 1647.1,1628.5 1706.8,1618.2 1734.7,1614.5 1764.0,1611.2 1787.2,1609.1 1807.6,1607.9 1826.1,1607.4 1842.8,1607.7 1842.8,1488.2 1796.4,1479.0 1749.1,1470.7 1712.0,1465.5 1697.2,1462.8 1689.8,1460.9 1681.3,1457.4 1674.0,1452.4 1669.4,1447.4 1658.8,1432.8 1651.4,1424.9 1646.5,1420.7 1625.6,1405.8 1620.2,1401.2 1568.3,1401.2 1567.3,1404.9 1566.8,1414.7 1565.9,1417.5 1564.6,1419.7Z" fill="#feebe1" fill-rule="evenodd"/>
<path d="M1565.5,1616.7 1588.7,1614.8 1641.6,1608.8 1713.9,1597.8 1760.3,1591.9 1802.0,1587.7 1842.8,1585.2 1842.8,1514.9 1807.6,1509.5 1758.7,1503.9 1735.2,1500.6 1696.3,1493.5 1684.2,1490.7 1674.0,1487.1 1663.8,1482.1 1629.0,1459.7 1625.1,1456.5 1616.5,1446.4 1611.1,1442.6 1606.3,1440.7 1601.7,1440.0 1596.1,1440.1 1591.5,1441.3 1587.0,1443.5 1583.1,1446.5 1564.6,1466.3 1564.6,1616.8Z" fill="#fee3d7" fill-rule="evenodd"/>
<path d="M1565.5,1603.7 1631.4,1598.4 1652.7,1595.8 1679.6,1591.1 1756.1,1575.4 1798.7,1565.7 1818.5,1560.6 1830.7,1556.9 1838.2,1553.8 1842.6,1550.8 1842.8,1545.2 1839.5,1543.4 1834.2,1541.5 1816.9,1537.3 1786.3,1531.8 1725.0,1521.6 1710.2,1518.6 1697.2,1515.3 1681.4,1510.3 1665.7,1503.7 1651.8,1496.6 1630.4,1484.1 1620.2,1479.3 1613.7,1477.3 1608.2,1476.2 1602.6,1476.0 1598.0,1476.7 1591.7,1478.8 1585.9,1482.1 1564.6,1499.7 1564.6,1603.7Z" fill="#fed9c9" fill-rule="evenodd"/>
<path d="M1592.4,1590.4 1612.8,1590.5 1633.2,1589.0 1652.8,1586.1 1673.1,1581.5 1693.6,1575.0 1709.4,1568.0 1715.5,1564.3 1719.5,1561.0 1721.9,1557.8 1722.1,1555.5 1719.8,1552.7 1708.8,1542.5 1697.6,1534.6 1678.8,1524.8 1648.1,1511.0 1631.4,1504.5 1619.3,1501.4 1607.3,1500.4 1601.7,1500.8 1596.1,1501.9 1588.7,1504.4 1581.3,1507.9 1571.3,1513.6 1564.6,1518.3 1564.6,1587.1 1577.6,1589.2Z" fill="#fdccb7" fill-rule="evenodd"/>
<path d="M1611.0,1580.6 1627.7,1580.2 1643.4,1578.0 1657.3,1574.3 1662.9,1572.1 1668.0,1569.4 1673.0,1565.2 1674.5,1562.9 1675.2,1560.6 1674.5,1549.4 1673.6,1546.2 1671.6,1542.5 1668.8,1538.7 1665.1,1535.0 1655.4,1528.0 1642.5,1521.7 1628.6,1517.2 1616.5,1515.3 1605.4,1515.4 1594.3,1517.7 1589.6,1519.4 1585.0,1521.8 1581.0,1524.8 1578.0,1528.0 1575.6,1531.8 1573.8,1535.9 1571.5,1543.8 1567.8,1560.6 1567.5,1564.3 1568.3,1567.5 1570.2,1570.3 1573.0,1572.7 1577.4,1575.0 1582.2,1576.7 1595.2,1579.4Z" fill="#fcbfa7" fill-rule="evenodd"/>
<path d="M1610.0,1570.4 1620.2,1570.5 1630.4,1569.0 1638.2,1566.1 1641.2,1564.3 1643.7,1562.0 1645.3,1559.3 1646.1,1556.4 1646.0,1553.6 1645.2,1549.4 1643.8,1545.2 1642.2,1542.0 1640.1,1539.2 1637.1,1536.4 1630.4,1532.4 1623.0,1529.8 1615.6,1528.9 1608.2,1529.6 1603.6,1531.3 1599.8,1533.7 1584.7,1549.0 1584.2,1549.9 1584.9,1551.7 1591.5,1561.0 1595.0,1564.8 1598.0,1566.8 1601.7,1568.5Z" fill="#fcb297" fill-rule="evenodd"/>
<line x1="1564.60" y1="1484.84" x2="1731.52" y2="1401.20" stroke="#2148A8" stroke-width="3.7" stroke-dasharray="2.5,0.8"/>
<circle cx="1826.1" cy="1534.1" r="4.1" fill="#3A80BD"/>
</g>
<rect x="1564.60" y="1401.20" width="278.20" height="260.20" fill="none" stroke="#6E6E6E" stroke-width="1.2" />
<line x1="1561.60" y1="1661.40" x2="1564.60" y2="1661.40" stroke="#000" stroke-width="2.4" />
<line x1="1561.60" y1="1624.23" x2="1564.60" y2="1624.23" stroke="#000" stroke-width="2.4" />
<line x1="1561.60" y1="1587.06" x2="1564.60" y2="1587.06" stroke="#000" stroke-width="2.4" />
<line x1="1561.60" y1="1549.89" x2="1564.60" y2="1549.89" stroke="#000" stroke-width="2.4" />
<line x1="1561.60" y1="1512.71" x2="1564.60" y2="1512.71" stroke="#000" stroke-width="2.4" />
<line x1="1561.60" y1="1475.54" x2="1564.60" y2="1475.54" stroke="#000" stroke-width="2.4" />
<line x1="1561.60" y1="1438.37" x2="1564.60" y2="1438.37" stroke="#000" stroke-width="2.4" />
<line x1="1561.60" y1="1401.20" x2="1564.60" y2="1401.20" stroke="#000" stroke-width="2.4" />
<line x1="1583.15" y1="1661.40" x2="1583.15" y2="1664.40" stroke="#000" stroke-width="2.4" />
<line x1="1620.24" y1="1661.40" x2="1620.24" y2="1664.40" stroke="#000" stroke-width="2.4" />
<line x1="1657.33" y1="1661.40" x2="1657.33" y2="1664.40" stroke="#000" stroke-width="2.4" />
<line x1="1694.43" y1="1661.40" x2="1694.43" y2="1664.40" stroke="#000" stroke-width="2.4" />
<line x1="1731.52" y1="1661.40" x2="1731.52" y2="1664.40" stroke="#000" stroke-width="2.4" />
<line x1="1768.61" y1="1661.40" x2="1768.61" y2="1664.40" stroke="#000" stroke-width="2.4" />
<line x1="1805.71" y1="1661.40" x2="1805.71" y2="1664.40" stroke="#000" stroke-width="2.4" />
<line x1="1842.80" y1="1661.40" x2="1842.80" y2="1664.40" stroke="#000" stroke-width="2.4" />
<text x="1558.1" y="1670.5" font-size="25.5" text-anchor="end" fill="#000">-6</text>
<text x="1558.1" y="1633.3" font-size="25.5" text-anchor="end" fill="#000">-4</text>
<text x="1558.1" y="1596.2" font-size="25.5" text-anchor="end" fill="#000">-2</text>
<text x="1558.1" y="1559.0" font-size="25.5" text-anchor="end" fill="#000">0</text>
<text x="1558.1" y="1521.8" font-size="25.5" text-anchor="end" fill="#000">2</text>
<text x="1558.1" y="1484.6" font-size="25.5" text-anchor="end" fill="#000">4</text>
<text x="1558.1" y="1447.5" font-size="25.5" text-anchor="end" fill="#000">6</text>
<text x="1558.1" y="1410.3" font-size="25.5" text-anchor="end" fill="#000">8</text>
<text x="1583.1" y="1689.9" font-size="25.5" text-anchor="middle" fill="#000">4</text>
<text x="1620.2" y="1689.9" font-size="25.5" text-anchor="middle" fill="#000">5</text>
<text x="1657.3" y="1689.9" font-size="25.5" text-anchor="middle" fill="#000">6</text>
<text x="1694.4" y="1689.9" font-size="25.5" text-anchor="middle" fill="#000">7</text>
<text x="1731.5" y="1689.9" font-size="25.5" text-anchor="middle" fill="#000">8</text>
<text x="1768.6" y="1689.9" font-size="25.5" text-anchor="middle" fill="#000">9</text>
<text x="1805.7" y="1689.9" font-size="25.5" text-anchor="middle" fill="#000">10</text>
<text x="1842.8" y="1689.9" font-size="25.5" text-anchor="middle" fill="#000">11</text>
<text transform="translate(1119.5,994.0) rotate(-90)" font-size="32.5" font-style="italic" fill="#000">R<tspan font-size="19" dy="11">score</tspan></text>
<text transform="translate(1522.0,997.0) rotate(-90)" font-size="32.5" font-style="italic" fill="#000">R<tspan font-size="19" dy="11">score</tspan></text>
<text transform="translate(1119.0,1286.0) rotate(-90)" font-size="32.5" font-style="italic" fill="#000">R<tspan font-size="19" dy="11">score</tspan></text>
<text transform="translate(1520.6,1290.0) rotate(-90)" font-size="32.5" font-style="italic" fill="#000">R<tspan font-size="19" dy="11">score</tspan></text>
<text transform="translate(1118.0,1579.0) rotate(-90)" font-size="32.5" font-style="italic" fill="#000">R<tspan font-size="19" dy="11">score</tspan></text>
<text transform="translate(1519.3,1581.0) rotate(-90)" font-size="32.5" font-style="italic" fill="#000">R<tspan font-size="19" dy="11">score</tspan></text>
<text x="1263.6" y="1724.5" font-size="29" font-style="italic" fill="#000">R<tspan font-size="19" dy="11">score</tspan></text>
<text x="1663.6" y="1724.5" font-size="29" font-style="italic" fill="#000">R<tspan font-size="19" dy="11">score</tspan></text>
<text x="1084.0" y="1297.0" font-size="27.5" font-weight="bold" fill="#231F20" textLength="112.0" lengthAdjust="spacingAndGlyphs" transform="rotate(-90 1084.0 1297.0)">no bulge</text>
<text x="1488.5" y="1306.0" font-size="27.5" font-weight="bold" fill="#231F20" textLength="137.0" lengthAdjust="spacingAndGlyphs" transform="rotate(-90 1488.5 1306.0)">2 nt bulge</text>
<text x="1419.5" y="1759.8" font-size="27.5" font-weight="bold" fill="#231F20" textLength="134.0" lengthAdjust="spacingAndGlyphs">1 nt bulge</text>
<rect x="1894.40" y="1056.52" width="20.00" height="16.88" fill="#fff0e9" />
<rect x="1894.40" y="1040.24" width="20.00" height="16.88" fill="#fee5da" />
<rect x="1894.40" y="1023.96" width="20.00" height="16.88" fill="#fdd7c6" />
<rect x="1894.40" y="1007.67" width="20.00" height="16.88" fill="#fcc5ae" />
<rect x="1894.40" y="991.39" width="20.00" height="16.88" fill="#fcb297" />
<rect x="1894.40" y="975.11" width="20.00" height="16.88" fill="#fc9f81" />
<rect x="1894.40" y="958.83" width="20.00" height="16.88" fill="#fc8b6d" />
<rect x="1894.40" y="942.55" width="20.00" height="16.88" fill="#fb795a" />
<rect x="1894.40" y="926.27" width="20.00" height="16.88" fill="#f8654a" />
<rect x="1894.40" y="909.99" width="20.00" height="16.88" fill="#f24f3d" />
<rect x="1894.40" y="893.71" width="20.00" height="16.88" fill="#e53d33" />
<rect x="1894.40" y="877.42" width="20.00" height="16.88" fill="#d32e2c" />
<rect x="1894.40" y="861.14" width="20.00" height="16.88" fill="#c02427" />
<rect x="1894.40" y="844.86" width="20.00" height="16.88" fill="#ad2123" />
<rect x="1894.40" y="828.58" width="20.00" height="16.88" fill="#931b20" />
<rect x="1894.40" y="812.30" width="20.00" height="16.88" fill="#74151c" />
<rect x="1894.40" y="812.30" width="20.00" height="260.50" fill="none" stroke="#555" stroke-width="0.9" />
<line x1="1914.40" y1="1072.80" x2="1917.90" y2="1072.80" stroke="#000" stroke-width="2.4" />
<text x="1924.9" y="1082.3" font-size="17.7" fill="#000">0.000</text>
<line x1="1914.40" y1="1007.67" x2="1917.90" y2="1007.67" stroke="#000" stroke-width="2.4" />
<text x="1924.9" y="1017.2" font-size="17.7" fill="#000">0.012</text>
<line x1="1914.40" y1="942.55" x2="1917.90" y2="942.55" stroke="#000" stroke-width="2.4" />
<text x="1924.9" y="952.0" font-size="17.7" fill="#000">0.024</text>
<line x1="1914.40" y1="877.42" x2="1917.90" y2="877.42" stroke="#000" stroke-width="2.4" />
<text x="1924.9" y="886.9" font-size="17.7" fill="#000">0.036</text>
<line x1="1914.40" y1="812.30" x2="1917.90" y2="812.30" stroke="#000" stroke-width="2.4" />
<text x="1924.9" y="821.8" font-size="17.7" fill="#000">0.048</text>
<line x1="1914.40" y1="1040.24" x2="1916.40" y2="1040.24" stroke="#888" stroke-width="1" />
<line x1="1914.40" y1="975.11" x2="1916.40" y2="975.11" stroke="#888" stroke-width="1" />
<line x1="1914.40" y1="909.99" x2="1916.40" y2="909.99" stroke="#888" stroke-width="1" />
<line x1="1914.40" y1="844.86" x2="1916.40" y2="844.86" stroke="#888" stroke-width="1" />
<text x="1987.5" y="949.8" font-size="19.5" text-anchor="middle" fill="#222" textLength="161.6" lengthAdjust="spacingAndGlyphs" transform="rotate(90 1987.5 949.8)">Sequence density</text>
<rect x="1894.40" y="1341.04" width="19.80" height="24.26" fill="#ffeee6" />
<rect x="1894.40" y="1317.37" width="19.80" height="24.26" fill="#fedecf" />
<rect x="1894.40" y="1293.71" width="19.80" height="24.26" fill="#fcc3ac" />
<rect x="1894.40" y="1270.05" width="19.80" height="24.26" fill="#fca78b" />
<rect x="1894.40" y="1246.38" width="19.80" height="24.26" fill="#fc8b6d" />
<rect x="1894.40" y="1222.72" width="19.80" height="24.26" fill="#fb6f51" />
<rect x="1894.40" y="1199.05" width="19.80" height="24.26" fill="#f2513e" />
<rect x="1894.40" y="1175.39" width="19.80" height="24.26" fill="#de3730" />
<rect x="1894.40" y="1151.73" width="19.80" height="24.26" fill="#c42528" />
<rect x="1894.40" y="1128.06" width="19.80" height="24.26" fill="#a71f22" />
<rect x="1894.40" y="1104.40" width="19.80" height="24.26" fill="#7b161d" />
<rect x="1894.40" y="1104.40" width="19.80" height="260.30" fill="none" stroke="#555" stroke-width="0.9" />
<line x1="1914.20" y1="1364.70" x2="1917.70" y2="1364.70" stroke="#000" stroke-width="2.4" />
<text x="1924.7" y="1370.7" font-size="17.7" fill="#000">0.000</text>
<line x1="1914.20" y1="1317.37" x2="1917.70" y2="1317.37" stroke="#000" stroke-width="2.4" />
<text x="1924.7" y="1323.4" font-size="17.7" fill="#000">0.006</text>
<line x1="1914.20" y1="1270.05" x2="1917.70" y2="1270.05" stroke="#000" stroke-width="2.4" />
<text x="1924.7" y="1276.0" font-size="17.7" fill="#000">0.012</text>
<line x1="1914.20" y1="1222.72" x2="1917.70" y2="1222.72" stroke="#000" stroke-width="2.4" />
<text x="1924.7" y="1228.7" font-size="17.7" fill="#000">0.018</text>
<line x1="1914.20" y1="1175.39" x2="1917.70" y2="1175.39" stroke="#000" stroke-width="2.4" />
<text x="1924.7" y="1181.4" font-size="17.7" fill="#000">0.024</text>
<line x1="1914.20" y1="1128.06" x2="1917.70" y2="1128.06" stroke="#000" stroke-width="2.4" />
<text x="1924.7" y="1134.1" font-size="17.7" fill="#000">0.030</text>
<text x="1987.5" y="1241.0" font-size="19.5" text-anchor="middle" fill="#222" textLength="161.6" lengthAdjust="spacingAndGlyphs" transform="rotate(90 1987.5 1241.0)">Sequence density</text>
<rect x="1894.40" y="1649.78" width="19.80" height="11.92" fill="#fff2eb" />
<rect x="1894.40" y="1638.46" width="19.80" height="11.92" fill="#feebe1" />
<rect x="1894.40" y="1627.13" width="19.80" height="11.92" fill="#fee3d7" />
<rect x="1894.40" y="1615.81" width="19.80" height="11.92" fill="#fed9c9" />
<rect x="1894.40" y="1604.49" width="19.80" height="11.92" fill="#fdccb7" />
<rect x="1894.40" y="1593.17" width="19.80" height="11.92" fill="#fcbfa7" />
<rect x="1894.40" y="1581.85" width="19.80" height="11.92" fill="#fcb297" />
<rect x="1894.40" y="1570.53" width="19.80" height="11.92" fill="#fca588" />
<rect x="1894.40" y="1559.20" width="19.80" height="11.92" fill="#fc9779" />
<rect x="1894.40" y="1547.88" width="19.80" height="11.92" fill="#fc8a6c" />
<rect x="1894.40" y="1536.56" width="19.80" height="11.92" fill="#fb7d5f" />
<rect x="1894.40" y="1525.24" width="19.80" height="11.92" fill="#fb6f51" />
<rect x="1894.40" y="1513.92" width="19.80" height="11.92" fill="#f76148" />
<rect x="1894.40" y="1502.60" width="19.80" height="11.92" fill="#f2523e" />
<rect x="1894.40" y="1491.27" width="19.80" height="11.92" fill="#ed4436" />
<rect x="1894.40" y="1479.95" width="19.80" height="11.92" fill="#e13931" />
<rect x="1894.40" y="1468.63" width="19.80" height="11.92" fill="#d42f2c" />
<rect x="1894.40" y="1457.31" width="19.80" height="11.92" fill="#c72628" />
<rect x="1894.40" y="1445.99" width="19.80" height="11.92" fill="#ba2326" />
<rect x="1894.40" y="1434.67" width="19.80" height="11.92" fill="#ac2023" />
<rect x="1894.40" y="1423.34" width="19.80" height="11.92" fill="#9b1d21" />
<rect x="1894.40" y="1412.02" width="19.80" height="11.92" fill="#85181e" />
<rect x="1894.40" y="1400.70" width="19.80" height="11.92" fill="#70141c" />
<rect x="1894.40" y="1400.70" width="19.80" height="260.40" fill="none" stroke="#555" stroke-width="0.9" />
<line x1="1914.20" y1="1661.10" x2="1917.70" y2="1661.10" stroke="#000" stroke-width="2.4" />
<text x="1924.7" y="1667.1" font-size="17.7" fill="#000">0.000</text>
<line x1="1914.20" y1="1627.13" x2="1917.70" y2="1627.13" stroke="#000" stroke-width="2.4" />
<text x="1924.7" y="1633.1" font-size="17.7" fill="#000">0.009</text>
<line x1="1914.20" y1="1593.17" x2="1917.70" y2="1593.17" stroke="#000" stroke-width="2.4" />
<text x="1924.7" y="1599.2" font-size="17.7" fill="#000">0.018</text>
<line x1="1914.20" y1="1559.20" x2="1917.70" y2="1559.20" stroke="#000" stroke-width="2.4" />
<text x="1924.7" y="1565.2" font-size="17.7" fill="#000">0.027</text>
<line x1="1914.20" y1="1525.24" x2="1917.70" y2="1525.24" stroke="#000" stroke-width="2.4" />
<text x="1924.7" y="1531.2" font-size="17.7" fill="#000">0.036</text>
<line x1="1914.20" y1="1491.27" x2="1917.70" y2="1491.27" stroke="#000" stroke-width="2.4" />
<text x="1924.7" y="1497.3" font-size="17.7" fill="#000">0.045</text>
<line x1="1914.20" y1="1457.31" x2="1917.70" y2="1457.31" stroke="#000" stroke-width="2.4" />
<text x="1924.7" y="1463.3" font-size="17.7" fill="#000">0.054</text>
<line x1="1914.20" y1="1423.34" x2="1917.70" y2="1423.34" stroke="#000" stroke-width="2.4" />
<text x="1924.7" y="1429.3" font-size="17.7" fill="#000">0.063</text>
<text x="1987.5" y="1534.5" font-size="19.5" text-anchor="middle" fill="#222" textLength="161.6" lengthAdjust="spacingAndGlyphs" transform="rotate(90 1987.5 1534.5)">Sequence density</text>
</svg>
</body></html>
